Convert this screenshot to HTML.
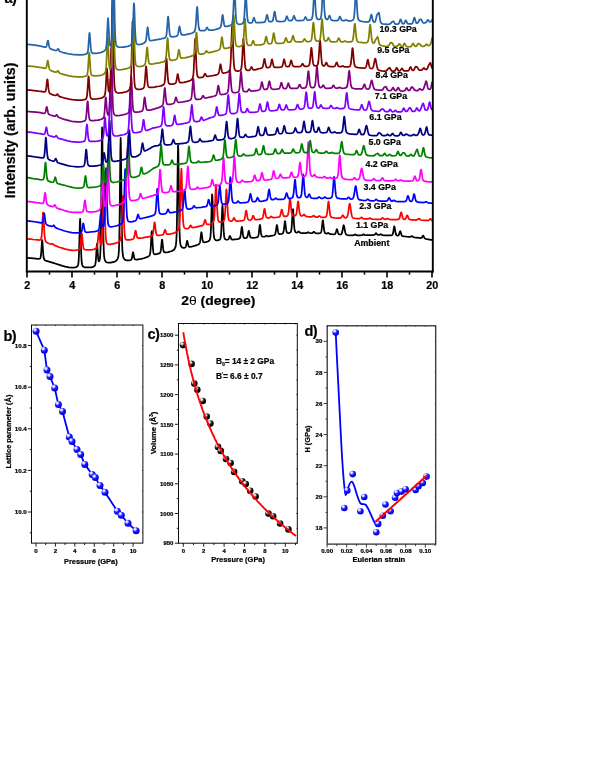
<!DOCTYPE html>
<html><head><meta charset="utf-8"><title>figure</title>
<style>html,body{margin:0;padding:0;background:#fff;}body{width:595px;height:770px;overflow:hidden;}svg{display:block;position:absolute;left:0;top:0;}text{font-family:"Liberation Sans",sans-serif;font-weight:bold;fill:#000;stroke:#000;stroke-width:0.22px;filter:grayscale(1);}</style>
</head><body>
<svg width="595" height="770" viewBox="0 0 595 770">
<defs>
<radialGradient id="gb" cx="0.36" cy="0.30" r="0.75" fx="0.33" fy="0.27"><stop offset="0" stop-color="#ffffff"/><stop offset="0.2" stop-color="#d0d0ff"/><stop offset="0.45" stop-color="#2222ff"/><stop offset="0.8" stop-color="#0000f0"/><stop offset="1" stop-color="#0000b0"/></radialGradient>
<radialGradient id="gk" cx="0.36" cy="0.30" r="0.75" fx="0.33" fy="0.27"><stop offset="0" stop-color="#ffffff"/><stop offset="0.2" stop-color="#cfcfcf"/><stop offset="0.45" stop-color="#2c2c2c"/><stop offset="0.7" stop-color="#000000"/><stop offset="1" stop-color="#000000"/></radialGradient>
</defs>
<rect x="0" y="0" width="595" height="770" fill="#ffffff"/>
<g id="pa">
<polyline points="27.00,257.99 30.38,258.14 33.47,258.38 36.00,258.63 37.69,258.80 38.81,258.82 39.66,258.66 39.94,258.52 40.22,258.27 40.50,257.71 40.78,256.58 41.06,254.44 41.63,246.47 41.91,242.04 42.19,240.02 42.47,242.02 43.03,251.27 43.31,254.93 43.59,257.27 43.88,258.60 44.16,259.30 44.44,259.74 45.00,260.23 46.41,260.94 53.16,262.88 55.13,263.47 57.09,264.17 62.44,265.85 65.25,266.62 68.91,267.34 72.28,267.70 73.41,267.66 75.09,267.45 76.22,267.16 77.06,266.63 77.63,265.98 77.91,265.43 78.19,264.50 78.47,262.64 78.75,259.15 79.03,253.02 79.88,222.24 80.16,218.98 80.44,225.10 81.00,247.10 81.28,255.31 81.56,260.44 81.84,263.28 82.13,264.79 82.41,265.56 82.69,266.01 83.25,266.57 84.09,267.05 85.22,267.33 88.03,267.47 89.44,267.49 91.69,267.31 92.53,267.13 93.66,266.63 94.50,265.97 94.78,265.63 95.06,265.13 95.34,264.22 95.63,262.56 95.91,259.72 96.75,245.49 97.03,243.62 97.31,245.88 97.88,255.04 98.16,258.44 98.44,260.40 98.72,261.27 99.00,261.37 99.28,260.95 99.56,260.14 99.84,258.78 100.13,256.35 100.41,251.65 100.69,242.66 100.97,226.81 101.53,171.18 101.81,141.20 102.09,127.26 102.38,139.45 103.22,224.92 103.50,241.22 103.78,250.49 104.06,255.35 104.34,257.83 104.63,259.25 104.91,260.18 105.47,261.28 106.03,261.91 106.59,262.26 107.16,262.49 108.00,262.65 110.81,262.59 113.91,261.98 115.03,261.53 116.16,260.75 117.00,259.84 117.56,258.89 117.84,258.24 118.13,257.34 118.41,255.96 118.69,253.58 118.97,249.04 119.25,240.48 119.53,225.65 120.38,149.14 120.66,137.99 120.94,149.94 121.78,226.18 122.06,240.65 122.34,248.89 122.63,253.20 122.91,255.49 123.19,256.80 123.47,257.69 123.75,258.31 124.31,259.07 125.16,259.84 126.00,260.15 126.84,260.40 129.09,260.34 130.50,260.08 131.06,259.81 131.34,259.54 131.63,258.99 131.91,258.12 132.47,254.98 132.75,253.23 133.03,252.27 133.31,252.75 134.16,257.55 134.44,258.51 134.72,259.07 135.00,259.34 135.28,259.48 136.97,259.63 139.50,259.18 141.19,258.92 143.72,258.25 146.81,257.19 147.94,256.69 149.06,255.88 149.34,255.61 149.63,255.19 149.91,254.49 150.19,253.25 150.47,251.02 150.75,247.45 151.59,232.01 151.88,231.15 152.16,234.58 152.72,245.28 153.00,249.20 153.28,251.66 153.56,253.02 153.84,253.71 154.13,254.03 154.69,254.26 155.25,254.31 156.38,254.20 158.34,253.72 159.19,253.44 159.75,253.13 160.03,252.82 160.31,252.32 160.59,251.43 160.88,249.89 161.44,244.47 161.72,241.37 162.00,239.51 162.28,240.04 163.13,248.44 163.41,250.30 163.69,251.40 163.97,251.99 164.25,252.25 164.81,252.45 166.78,252.41 168.19,252.19 171.00,251.29 172.13,250.88 173.25,250.28 174.09,249.50 174.66,248.79 175.22,247.67 175.50,246.86 175.78,245.69 176.06,243.80 176.34,240.36 176.63,233.98 176.91,222.86 177.47,183.27 177.75,160.04 178.03,145.40 178.31,148.67 179.16,211.85 179.44,226.68 179.72,235.83 180.00,240.86 180.28,243.50 180.56,244.92 180.84,245.76 181.41,246.73 181.97,247.32 182.53,247.66 183.66,247.87 184.50,247.78 185.06,247.56 185.34,247.38 185.63,246.94 185.91,246.23 186.19,245.13 186.75,242.07 187.03,240.91 187.31,240.90 187.88,243.47 188.16,244.84 188.44,245.81 188.72,246.40 189.00,246.70 189.28,246.85 189.84,246.92 191.53,246.61 193.50,246.14 195.19,245.63 196.88,245.05 198.28,244.46 199.13,243.90 199.41,243.58 199.69,243.04 199.97,242.14 200.25,240.69 201.09,233.55 201.38,232.26 201.66,232.92 202.50,239.46 202.78,240.83 203.06,241.64 203.34,242.05 203.63,242.24 204.19,242.32 205.59,242.15 207.28,241.67 208.41,241.20 209.25,240.54 209.53,240.17 209.81,239.66 210.09,238.79 210.38,237.20 210.66,234.31 210.94,229.34 211.50,211.79 211.78,201.36 212.06,194.45 212.34,195.22 212.63,203.10 213.19,223.14 213.47,230.13 213.75,234.54 214.03,237.03 214.31,238.34 214.59,239.04 215.16,239.78 215.72,240.11 216.28,240.32 217.69,240.30 219.09,239.91 219.66,239.60 219.94,239.30 220.22,238.83 220.50,238.07 220.78,236.63 221.06,233.99 221.34,229.60 222.19,208.71 222.47,205.70 222.75,208.62 223.59,229.31 223.88,233.69 224.16,236.31 224.44,237.78 224.72,238.57 225.00,239.01 225.56,239.43 226.13,239.60 226.97,239.74 228.09,239.50 228.38,239.30 228.66,238.93 228.94,238.32 229.50,236.58 229.78,235.97 230.06,236.00 230.34,236.59 230.91,238.19 231.19,238.78 231.75,239.38 232.31,239.56 232.88,239.59 237.09,239.22 238.50,238.92 239.34,238.60 239.91,238.08 240.19,237.51 240.47,236.54 240.75,234.95 241.59,227.80 241.88,226.88 242.16,227.98 243.00,234.91 243.28,236.37 243.56,237.24 243.84,237.71 244.41,238.06 245.25,238.12 246.09,237.99 246.66,237.77 246.94,237.52 247.22,237.09 247.50,236.35 248.06,233.68 248.34,232.03 248.63,230.90 248.91,230.88 249.19,231.98 249.75,235.03 250.03,236.16 250.31,236.91 250.59,237.33 250.88,237.56 251.44,237.74 253.41,237.83 255.66,237.51 256.78,237.32 257.34,237.09 257.91,236.61 258.19,236.07 258.47,235.17 258.75,233.65 259.59,226.22 259.88,224.93 260.16,225.68 261.00,232.89 261.28,234.54 261.56,235.57 261.84,236.17 262.13,236.48 262.69,236.70 263.81,236.75 264.66,236.69 265.22,236.47 266.06,235.83 266.34,235.69 266.63,235.69 267.75,236.30 268.31,236.36 272.25,235.72 273.94,235.23 274.50,234.93 275.06,234.27 275.34,233.59 275.63,232.53 276.19,228.84 276.47,226.68 276.75,225.21 277.03,225.17 277.31,226.65 277.88,230.68 278.16,232.14 278.44,233.09 278.72,233.60 279.00,233.89 279.56,234.10 281.25,234.00 281.81,233.88 282.66,233.45 282.94,233.18 283.22,232.72 283.50,231.85 283.78,230.39 284.34,225.62 284.63,222.92 284.91,221.16 285.19,221.33 285.47,223.33 286.03,228.54 286.31,230.44 286.59,231.69 286.88,232.42 287.16,232.80 287.72,233.05 288.56,233.10 289.13,233.04 290.25,232.55 290.53,232.25 290.81,231.80 291.09,231.01 291.38,229.55 291.66,227.08 292.22,218.58 292.50,213.40 292.78,209.54 293.06,209.16 293.34,212.47 293.91,222.47 294.19,226.36 294.47,228.96 294.75,230.53 295.03,231.40 295.31,231.91 295.59,232.23 296.16,232.50 297.00,232.58 297.56,232.43 298.41,231.58 298.69,231.41 298.97,231.49 300.09,232.63 300.38,232.80 301.22,233.01 306.00,233.11 306.84,232.96 307.97,232.27 308.25,232.21 308.53,232.33 309.38,232.98 310.50,233.24 311.63,233.24 312.19,233.13 312.75,232.76 313.59,231.84 313.88,231.79 314.16,231.93 315.00,232.83 315.56,233.12 316.97,233.30 318.94,233.27 319.78,233.17 320.34,232.99 320.63,232.78 320.91,232.45 321.19,231.82 321.47,230.68 321.75,228.89 322.59,221.19 322.88,220.30 323.16,221.50 324.00,229.25 324.28,230.97 324.56,232.11 324.84,232.78 325.13,233.13 325.69,233.46 326.53,233.64 326.81,233.63 327.94,233.02 328.22,232.98 328.78,233.31 329.63,233.88 330.19,234.03 331.59,234.24 333.56,234.33 334.69,234.20 334.97,234.05 335.25,233.77 335.53,233.30 336.09,231.53 336.66,229.47 336.94,229.19 337.22,229.73 338.06,232.83 338.34,233.52 338.63,233.92 339.19,234.33 340.31,234.50 340.88,234.38 341.16,234.23 341.44,233.92 341.72,233.42 342.00,232.68 342.56,230.30 343.41,225.74 343.69,225.17 343.97,225.63 344.53,228.52 345.09,231.60 345.38,232.74 345.66,233.57 345.94,234.10 346.22,234.48 346.78,234.80 347.63,235.03 350.16,235.28 352.41,235.39 353.81,235.20 354.66,234.69 354.94,234.49 355.22,234.39 355.50,234.40 356.63,235.16 357.19,235.31 359.16,235.34 360.28,235.36 361.97,235.13 362.25,235.04 363.09,234.44 363.38,234.35 363.66,234.40 364.78,235.06 365.63,235.24 369.56,235.19 370.69,235.18 372.66,235.13 374.34,234.85 374.91,234.47 375.75,233.36 376.03,233.19 376.31,233.33 377.16,234.40 377.72,234.83 378.28,235.00 379.13,234.91 379.69,234.69 380.53,234.23 380.81,234.18 381.38,234.49 381.94,234.89 382.50,235.13 384.75,235.31 388.13,235.38 388.97,235.45 390.66,235.41 391.78,235.18 392.06,235.06 392.34,234.83 392.63,234.36 392.91,233.57 393.47,230.65 394.03,227.11 394.31,226.38 394.59,227.03 395.44,232.31 395.72,233.60 396.00,234.47 396.28,234.96 396.56,235.23 397.41,235.59 397.97,235.53 398.25,235.46 398.53,235.24 398.81,234.85 399.38,233.40 399.94,231.55 400.22,231.20 400.50,231.56 401.34,234.40 401.63,235.11 401.91,235.56 402.19,235.87 403.03,236.22 404.16,236.43 406.97,236.71 408.38,236.81 410.06,236.88 410.91,236.55 411.47,236.20 411.75,236.15 412.03,236.21 413.44,237.11 414.28,237.37 415.97,237.68 417.09,237.73 420.19,238.02 421.03,238.02 421.31,237.94 421.88,237.46 422.72,235.94 423.00,235.63 423.28,235.71 423.84,236.77 424.41,237.93 424.97,238.53 425.81,238.87 427.22,239.12 428.34,239.27 430.88,239.82 432.00,239.97" fill="none" stroke="#000000" stroke-width="1.75" stroke-linejoin="round" stroke-linecap="round"/>
<polyline points="27.00,238.95 30.66,239.16 33.19,239.50 37.41,239.94 37.97,239.97 39.38,240.04 39.94,239.98 40.50,239.71 40.78,239.46 41.06,238.94 41.34,238.03 41.63,236.26 41.91,233.24 42.47,222.97 42.75,216.91 43.03,212.66 43.31,212.61 43.59,216.87 44.16,229.13 44.44,233.92 44.72,237.21 45.00,239.23 45.28,240.38 45.56,241.09 46.13,241.87 46.97,242.54 47.81,243.05 49.50,243.76 50.91,244.12 51.75,243.97 52.31,243.78 52.59,243.79 53.16,244.26 53.72,244.86 54.56,245.38 59.34,247.24 61.59,247.96 63.00,248.37 64.69,248.93 66.66,249.40 68.06,249.73 72.00,250.35 73.97,250.40 75.94,250.25 78.19,249.98 79.03,249.69 79.31,249.50 79.59,249.15 79.88,248.51 80.16,247.41 80.44,245.60 81.00,239.65 81.28,236.18 81.56,233.73 81.84,233.52 82.13,235.73 82.97,245.11 83.25,246.98 83.53,248.13 83.81,248.81 84.09,249.15 84.66,249.49 85.50,249.73 86.91,249.88 89.72,249.88 92.25,249.65 93.94,249.33 95.06,248.95 95.91,248.47 96.47,247.95 96.75,247.53 97.03,246.76 97.31,245.53 97.59,243.63 98.16,237.37 98.44,233.72 98.72,231.01 99.00,230.56 99.28,232.50 99.84,239.02 100.13,241.58 100.41,243.29 100.69,244.22 100.97,244.53 101.25,244.39 101.53,243.87 101.81,242.82 102.09,240.89 102.38,237.47 102.66,231.75 102.94,223.00 103.78,185.42 104.06,179.96 104.34,184.31 105.19,221.24 105.47,230.18 105.75,236.04 106.03,239.54 106.31,241.50 106.59,242.56 106.88,243.21 107.16,243.62 107.72,244.08 108.28,244.36 109.13,244.45 110.53,244.31 111.38,244.14 113.91,243.64 116.16,243.05 118.13,242.27 118.97,241.73 119.81,240.93 120.09,240.55 120.38,239.98 120.66,239.15 120.94,237.76 121.22,235.36 121.50,231.41 121.78,225.41 122.63,199.73 122.91,195.81 123.19,198.51 124.03,223.58 124.31,229.83 124.59,234.04 124.88,236.53 125.16,237.93 125.44,238.71 125.72,239.14 126.28,239.59 126.84,239.82 128.25,239.96 129.66,239.84 131.91,239.39 133.03,239.03 133.59,238.52 133.88,238.02 134.16,237.23 134.72,234.48 135.28,231.25 135.56,230.58 135.84,231.14 136.69,235.61 136.97,236.68 137.25,237.39 137.53,237.81 137.81,238.02 138.38,238.16 139.50,238.18 142.88,237.78 144.84,237.48 149.34,236.72 150.47,236.53 151.88,235.93 152.16,235.68 152.44,235.29 152.72,234.69 153.00,233.70 153.28,232.18 154.13,224.56 154.41,222.56 154.69,222.33 154.97,223.97 155.81,231.48 156.09,233.10 156.38,234.11 156.66,234.68 156.94,235.02 157.22,235.19 158.06,235.34 159.47,235.29 161.44,235.03 162.84,234.62 163.13,234.38 163.41,234.03 163.69,233.52 164.25,231.86 164.81,230.08 165.09,229.80 165.38,230.20 166.22,232.84 166.50,233.48 166.78,233.85 167.06,234.07 167.63,234.20 169.59,234.10 170.44,234.01 173.81,233.20 174.94,232.70 176.91,231.38 177.75,230.61 178.31,229.81 178.59,229.24 178.88,228.39 179.16,226.99 179.44,224.67 179.72,220.76 180.00,214.56 180.56,194.30 181.13,172.07 181.41,168.71 181.69,173.85 182.53,207.33 182.81,215.33 183.09,220.69 183.38,223.93 183.66,225.79 183.94,226.84 184.22,227.44 184.50,227.83 185.06,228.27 185.63,228.50 185.91,228.60 187.31,228.57 188.16,228.39 188.72,228.12 189.00,227.87 189.56,227.02 190.13,225.79 190.41,225.36 190.69,225.30 190.97,225.61 191.81,227.01 192.38,227.43 192.94,227.53 195.47,227.19 196.88,226.86 199.97,226.17 201.94,225.71 202.78,225.34 203.34,224.74 203.63,224.19 204.19,222.39 204.75,220.32 205.03,219.85 205.31,220.14 206.16,222.84 206.44,223.55 206.72,224.02 207.00,224.28 207.56,224.46 208.41,224.44 210.38,224.10 211.22,223.80 212.34,223.16 213.19,222.32 213.47,221.77 213.75,220.93 214.03,219.50 214.31,217.08 214.59,213.28 215.16,200.91 215.72,187.09 216.00,184.69 216.28,187.39 217.13,207.96 217.41,213.16 217.69,216.71 217.97,218.92 218.25,220.23 218.53,220.96 218.81,221.38 219.09,221.67 219.66,221.95 220.50,222.10 221.91,221.93 222.75,221.64 223.31,221.33 223.88,220.67 224.16,220.01 224.44,218.89 224.72,217.04 225.00,214.10 225.56,204.18 226.13,192.20 226.41,189.32 226.69,190.77 227.81,212.49 228.09,215.84 228.38,217.99 228.66,219.21 228.94,219.93 229.22,220.34 230.06,220.88 231.19,221.07 232.03,220.96 232.31,220.77 232.59,220.46 233.16,219.43 233.72,218.14 234.00,217.91 234.28,218.08 235.41,220.30 235.69,220.62 235.97,220.82 236.25,220.93 237.66,221.02 240.19,220.90 242.44,220.63 243.28,220.37 243.84,220.07 244.13,219.69 244.41,219.10 244.69,218.21 245.25,215.23 245.81,211.56 246.09,210.63 246.38,210.94 246.94,214.22 247.50,217.42 247.78,218.46 248.06,219.14 248.34,219.56 248.91,219.89 250.03,220.05 250.88,219.87 251.16,219.73 251.44,219.46 251.72,219.07 252.28,217.72 252.84,216.07 253.13,215.65 253.41,215.80 254.53,218.66 254.81,219.10 255.09,219.41 255.66,219.68 256.78,219.69 259.03,219.40 261.28,218.86 262.13,218.45 262.41,218.14 262.69,217.61 262.97,216.77 263.53,213.96 264.09,210.23 264.38,209.01 264.66,208.92 264.94,210.06 265.78,215.14 266.06,216.26 266.34,217.03 266.63,217.48 266.91,217.75 267.47,217.95 268.59,218.01 269.44,217.79 270.00,217.37 270.84,216.52 271.13,216.40 271.69,216.74 272.25,217.30 272.81,217.60 273.66,217.72 275.91,217.50 278.16,217.21 279.00,216.98 279.56,216.65 279.84,216.31 280.13,215.78 280.41,214.96 281.53,209.99 281.81,209.65 282.09,210.19 282.94,213.94 283.22,214.91 283.50,215.57 283.78,215.99 284.06,216.20 284.91,216.41 285.47,216.43 286.59,216.18 287.16,215.87 287.44,215.63 287.72,215.24 288.00,214.58 288.28,213.56 288.56,211.89 289.13,206.47 289.69,199.93 289.97,198.22 290.25,198.74 290.53,201.22 291.38,210.56 291.66,212.60 291.94,213.89 292.22,214.70 292.50,215.18 293.06,215.56 293.91,215.74 294.75,215.74 295.31,215.60 295.59,215.39 295.88,215.05 296.16,214.44 296.44,213.45 296.72,211.92 297.28,207.16 297.84,202.17 298.13,201.39 298.41,202.43 299.25,210.13 299.53,212.14 299.81,213.62 300.09,214.57 300.38,215.12 300.66,215.45 301.22,215.80 301.50,215.89 302.06,215.90 302.63,215.68 303.75,214.52 304.03,214.45 304.31,214.62 305.44,215.95 306.28,216.44 307.97,216.76 310.78,216.83 311.34,216.87 312.19,216.62 313.03,216.01 313.31,215.78 313.59,215.68 313.88,215.73 314.16,215.93 314.72,216.55 315.28,216.91 316.41,217.17 316.97,217.18 317.53,217.10 318.09,216.83 318.94,216.13 319.22,215.98 319.50,216.01 320.91,217.09 322.03,217.33 323.44,217.39 324.56,217.34 325.13,217.23 325.69,216.96 325.97,216.73 326.25,216.36 326.53,215.69 326.81,214.64 327.09,213.03 327.66,208.01 328.22,202.59 328.50,201.51 328.78,202.39 329.91,212.98 330.19,214.68 330.47,215.78 330.75,216.47 331.03,216.91 331.59,217.35 333.00,217.73 334.13,217.84 338.34,218.07 340.03,218.02 340.59,217.91 341.16,217.56 341.72,216.81 342.56,215.37 342.84,215.26 343.13,215.49 343.97,216.97 344.53,217.57 345.09,217.83 345.66,217.82 346.22,217.66 346.78,217.24 347.06,216.85 347.34,216.26 347.63,215.40 348.19,212.68 349.31,204.76 349.59,203.75 349.88,203.84 350.16,205.00 351.28,213.04 351.84,215.72 352.13,216.56 352.41,217.14 352.69,217.55 353.25,218.02 353.81,218.24 354.94,218.45 357.47,218.70 359.16,218.71 359.72,218.59 360.28,218.30 361.13,217.58 361.41,217.42 361.69,217.43 362.25,217.87 362.81,218.42 363.38,218.76 364.50,218.95 367.31,218.97 368.16,218.83 368.72,218.64 369.56,218.19 370.13,218.24 371.25,218.93 372.09,219.16 374.34,219.25 375.75,219.34 377.44,219.28 379.69,219.31 380.81,219.16 381.38,218.89 382.22,218.11 382.50,217.95 382.78,217.97 383.34,218.38 384.19,219.06 384.47,219.24 385.03,219.34 385.88,219.18 387.00,218.59 387.28,218.52 387.56,218.56 388.69,219.19 389.53,219.38 392.63,219.65 396.56,219.62 397.97,219.43 398.81,219.05 399.09,218.78 399.38,218.36 399.66,217.70 400.22,215.58 400.78,213.04 401.06,212.33 401.34,212.36 401.63,213.18 402.47,216.88 402.75,217.79 403.03,218.43 403.31,218.84 403.88,219.18 404.44,219.29 405.00,219.16 405.28,218.97 405.56,218.64 406.13,217.54 406.69,216.00 406.97,215.44 407.25,215.29 407.53,215.61 408.66,218.44 409.22,219.17 409.78,219.52 410.63,219.71 411.75,219.85 413.16,219.88 415.69,220.02 416.53,219.99 417.38,219.69 418.22,219.08 418.50,218.82 418.78,218.65 419.06,218.62 419.63,219.02 420.47,219.76 421.03,220.00 424.41,220.32 426.94,220.47 428.06,220.49 428.63,220.34 428.91,220.20 430.03,219.07 430.31,218.89 430.59,218.88 431.16,219.50 432.00,220.49" fill="none" stroke="#ff0000" stroke-width="1.75" stroke-linejoin="round" stroke-linecap="round"/>
<polyline points="27.00,220.95 29.81,221.08 32.34,221.49 34.31,221.75 35.44,221.96 38.53,222.36 40.78,222.85 41.63,222.89 41.91,222.83 42.19,222.61 42.47,222.20 42.75,221.39 43.03,220.07 43.88,214.04 44.16,213.28 44.44,214.20 45.28,220.82 45.56,222.31 45.84,223.32 46.13,223.94 46.41,224.36 47.25,224.96 48.66,225.60 51.75,226.43 52.31,226.39 52.88,225.98 53.44,225.34 53.72,225.27 54.00,225.49 54.84,226.91 55.13,227.27 55.97,227.88 58.78,228.99 63.84,230.73 66.66,231.50 68.34,231.85 68.91,232.02 72.00,232.63 74.53,232.85 76.22,232.89 79.31,232.72 80.44,232.56 81.00,232.27 81.28,232.07 81.56,231.60 81.84,230.86 82.13,229.73 82.97,224.32 83.25,223.31 83.53,223.68 84.09,227.11 84.66,230.25 84.94,231.12 85.22,231.66 85.50,231.98 86.06,232.22 86.63,232.32 88.88,232.22 90.84,232.00 91.41,231.93 93.94,231.73 95.34,231.47 96.47,231.17 97.59,230.71 98.16,230.33 98.44,229.99 98.72,229.49 99.00,228.69 99.28,227.40 99.56,225.36 100.41,216.10 100.69,214.23 100.97,214.61 101.81,222.81 102.09,224.91 102.38,226.19 102.66,226.81 102.94,226.96 103.22,226.76 103.50,226.25 103.78,225.25 104.06,223.45 104.34,220.27 104.63,214.93 104.91,206.80 105.75,172.70 106.03,168.11 106.31,172.43 107.16,206.15 107.44,214.23 107.72,219.51 108.00,222.59 108.28,224.37 108.56,225.32 108.84,225.88 109.41,226.44 109.97,226.67 111.09,226.79 112.50,226.67 114.47,226.26 115.59,226.00 116.44,225.81 117.56,225.48 119.53,224.68 120.94,223.99 121.78,223.25 122.34,222.47 122.63,221.85 122.91,220.85 123.19,219.22 123.47,216.38 123.75,211.71 124.03,204.59 124.88,173.93 125.16,169.04 125.44,171.99 126.28,201.87 126.56,209.48 126.84,214.53 127.13,217.61 127.41,219.34 127.69,220.29 127.97,220.83 128.25,221.17 128.81,221.54 129.66,221.74 131.06,221.82 132.47,221.62 135.00,220.84 135.56,220.58 136.13,220.06 136.41,219.61 136.69,218.98 137.25,216.99 137.81,214.85 138.09,214.52 138.38,214.96 139.22,217.68 139.50,218.22 139.78,218.56 140.06,218.72 140.91,218.70 142.03,218.48 143.72,218.02 149.34,216.55 151.03,216.15 153.28,215.43 154.13,214.98 154.69,214.45 154.97,214.01 155.25,213.28 155.53,212.05 155.81,210.05 156.09,206.92 156.94,192.17 157.22,188.82 157.50,188.95 157.78,192.49 158.63,206.86 158.91,209.79 159.19,211.64 159.47,212.71 159.75,213.27 160.03,213.59 160.59,213.91 161.72,214.03 163.13,214.02 164.53,213.89 165.94,213.40 166.50,212.76 166.78,212.24 167.63,209.98 167.91,209.43 168.19,209.43 168.47,209.95 169.03,211.40 169.59,212.37 169.88,212.58 170.72,212.73 171.84,212.63 175.78,211.94 179.44,211.11 180.56,210.72 181.69,210.08 182.25,209.44 182.53,208.78 182.81,207.72 183.09,205.96 183.38,203.38 184.22,191.85 184.50,189.58 184.78,190.02 185.06,192.95 185.63,200.80 185.91,203.87 186.19,206.04 186.47,207.40 186.75,208.19 187.03,208.60 187.31,208.84 187.88,209.02 188.72,209.09 191.25,208.72 192.09,208.36 192.66,207.82 193.78,205.88 194.06,205.85 194.34,206.12 195.19,207.31 195.47,207.55 196.03,207.77 196.88,207.75 201.38,207.28 203.06,206.97 204.19,206.89 205.59,206.71 206.44,206.26 206.72,205.97 207.00,205.46 207.28,204.76 207.84,202.42 208.41,199.92 208.69,199.59 208.97,200.18 209.81,203.85 210.09,204.76 210.38,205.34 210.66,205.72 210.94,205.92 211.78,206.09 213.47,206.00 216.00,205.34 216.84,204.92 217.13,204.71 217.41,204.35 217.69,203.71 217.97,202.69 218.25,201.04 218.53,198.60 219.38,187.85 219.66,185.57 219.94,185.83 220.22,188.47 221.06,198.83 221.34,201.05 221.63,202.47 221.91,203.31 222.19,203.77 222.47,203.99 223.03,204.18 223.59,204.24 225.28,204.10 226.41,203.81 227.25,203.38 227.81,202.83 228.09,202.31 228.38,201.46 228.66,199.95 228.94,197.55 229.50,189.51 230.06,179.65 230.34,177.18 230.63,178.18 231.19,187.13 231.75,195.84 232.03,198.58 232.31,200.37 232.59,201.46 232.88,202.07 233.16,202.41 233.72,202.78 234.56,203.00 235.97,202.93 236.53,202.71 236.81,202.49 237.66,201.45 237.94,201.20 238.22,201.17 238.78,201.74 239.34,202.40 239.63,202.64 240.19,202.83 241.31,202.84 242.44,202.75 244.69,202.53 246.94,202.26 247.78,201.94 248.06,201.79 248.34,201.49 248.63,201.05 248.91,200.38 249.47,197.94 250.03,194.80 250.31,193.88 250.59,193.95 250.88,195.03 251.72,199.36 252.00,200.30 252.28,200.91 252.56,201.29 252.84,201.49 253.13,201.59 254.25,201.64 255.09,201.52 255.66,201.23 255.94,200.98 256.22,200.56 256.78,199.23 257.34,197.87 257.63,197.71 257.91,198.03 258.75,200.06 259.31,200.90 259.88,201.19 260.72,201.26 262.69,201.14 265.78,200.48 266.34,200.26 266.91,199.71 267.19,199.22 267.47,198.38 267.75,197.17 268.88,189.88 269.16,189.50 269.44,190.48 270.28,196.14 270.56,197.52 270.84,198.43 271.13,198.99 271.41,199.31 271.97,199.63 272.53,199.67 273.66,199.53 274.22,199.32 275.63,198.21 275.91,198.18 276.19,198.35 277.03,199.11 277.88,199.41 279.00,199.48 282.38,199.29 283.78,199.03 284.34,198.74 284.63,198.49 284.91,198.09 285.19,197.49 285.75,195.61 286.31,193.48 286.59,193.05 286.88,193.35 288.00,197.22 288.28,197.79 288.56,198.16 288.84,198.40 289.41,198.56 290.25,198.52 291.38,198.27 292.22,197.80 292.50,197.51 292.78,197.07 293.06,196.34 293.34,195.05 293.63,193.13 294.19,187.22 294.75,180.79 295.03,179.65 295.31,180.83 296.16,190.48 296.44,193.08 296.72,194.89 297.00,196.09 297.28,196.79 297.84,197.43 298.41,197.65 299.53,197.65 300.09,197.46 300.66,196.96 300.94,196.47 301.22,195.58 301.50,194.06 301.78,191.77 302.34,184.46 302.91,176.26 303.19,174.45 303.47,175.61 304.59,191.05 304.88,193.54 305.16,195.14 305.44,196.11 305.72,196.71 306.00,197.04 306.56,197.35 307.13,197.40 307.41,197.24 307.69,196.98 307.97,196.58 308.81,194.64 309.09,194.23 309.38,194.29 309.66,194.78 310.50,196.94 310.78,197.44 311.34,198.01 311.91,198.25 313.88,198.38 316.97,198.33 317.53,198.11 318.66,197.14 318.94,197.01 319.22,197.03 320.63,198.13 321.47,198.34 322.59,198.38 323.16,198.21 324.00,197.60 324.56,197.08 324.84,197.03 325.13,197.14 325.97,197.93 326.53,198.23 327.38,198.43 328.50,198.34 330.47,198.06 331.03,197.84 331.59,197.34 331.88,196.80 332.16,195.88 332.44,194.40 332.72,192.20 333.28,185.34 333.84,178.09 334.13,176.77 334.41,178.08 335.53,192.22 335.81,194.45 336.09,195.93 336.38,196.85 336.66,197.39 336.94,197.74 337.50,198.10 338.63,198.48 340.03,198.67 342.00,198.88 346.22,198.97 346.78,198.83 347.34,198.44 348.19,197.48 348.47,197.27 348.75,197.28 349.03,197.50 349.88,198.52 350.44,198.94 351.00,199.05 352.13,198.94 352.69,198.67 352.97,198.32 353.25,197.81 353.53,197.09 353.81,196.07 354.38,193.01 355.22,187.32 355.50,186.22 355.78,186.12 356.06,187.03 357.19,194.51 357.75,197.22 358.03,198.10 358.31,198.71 358.59,199.14 359.16,199.65 360.00,199.96 363.66,200.50 364.78,200.50 365.63,200.44 366.19,200.25 366.75,199.84 367.31,199.40 367.59,199.27 367.88,199.27 368.16,199.44 369.28,200.44 370.13,200.71 371.25,200.82 373.78,200.81 374.63,200.51 375.19,200.07 375.75,199.53 376.03,199.41 376.31,199.43 377.72,200.65 378.84,200.98 381.94,201.09 384.19,201.14 385.88,201.13 386.72,200.95 387.00,200.86 387.56,200.38 387.84,199.97 388.69,198.22 388.97,197.84 389.25,197.85 389.53,198.18 390.38,199.94 390.66,200.39 390.94,200.71 391.22,200.92 391.78,201.06 392.34,201.04 393.19,200.66 393.75,200.40 394.03,200.39 394.59,200.68 395.44,201.15 396.00,201.32 398.53,201.52 404.44,201.57 405.28,201.43 405.84,201.11 406.13,200.80 406.69,199.59 407.53,196.58 407.81,195.90 408.09,195.81 408.38,196.38 409.22,199.34 409.50,200.09 409.78,200.64 410.06,201.00 410.63,201.31 411.19,201.35 411.75,201.14 412.03,200.89 412.31,200.41 412.59,199.69 413.16,197.48 413.72,194.80 414.00,194.11 414.28,194.26 414.56,195.19 415.41,199.20 415.69,200.13 415.97,200.82 416.25,201.26 416.81,201.74 417.38,201.94 419.06,202.28 420.19,202.38 421.59,202.38 423.56,202.55 424.41,202.45 425.25,202.06 425.81,201.76 426.09,201.75 426.66,202.01 427.50,202.53 428.34,202.84 431.16,203.16 432.00,203.20" fill="none" stroke="#0000ff" stroke-width="1.75" stroke-linejoin="round" stroke-linecap="round"/>
<polyline points="27.00,201.47 28.69,201.57 31.78,201.91 35.16,202.32 39.66,203.08 42.19,203.45 42.75,203.39 43.03,203.26 43.31,202.91 43.59,202.25 43.88,201.06 44.44,196.96 44.72,194.56 45.00,192.94 45.28,193.03 45.56,194.84 46.13,199.82 46.41,201.73 46.69,203.09 46.97,203.93 47.25,204.43 47.81,204.96 48.94,205.56 52.59,206.66 53.16,206.64 53.44,206.50 53.72,206.26 54.56,205.10 54.84,204.98 55.13,205.23 55.97,206.95 56.53,207.71 57.09,208.08 60.75,209.30 62.16,209.76 64.41,210.53 69.19,211.78 72.84,212.34 76.22,212.48 78.75,212.37 80.72,212.30 82.13,211.98 82.69,211.64 82.97,211.30 83.25,210.65 83.53,209.61 83.81,207.97 84.66,201.15 84.94,200.32 85.22,201.28 86.06,207.99 86.34,209.52 86.63,210.51 86.91,211.12 87.19,211.44 88.03,211.80 89.44,211.92 90.84,212.02 92.53,211.89 93.66,211.83 95.06,211.69 95.91,211.53 97.88,210.84 99.28,210.16 99.84,209.65 100.13,209.30 100.41,208.72 100.69,207.73 100.97,206.09 101.25,203.38 101.81,193.99 102.38,182.81 102.66,180.70 102.94,182.84 103.78,198.48 104.06,202.04 104.34,204.30 104.63,205.51 104.91,206.02 105.19,206.06 105.47,205.80 105.75,205.11 106.03,203.81 106.31,201.41 106.59,197.40 107.16,182.96 107.72,165.45 108.00,162.02 108.28,165.34 109.13,190.65 109.41,196.70 109.69,200.64 109.97,202.96 110.25,204.27 110.53,204.96 110.81,205.34 111.38,205.72 112.22,205.89 114.19,205.73 116.44,205.19 119.81,204.31 122.06,203.40 123.47,202.57 124.03,202.07 124.59,201.26 124.88,200.71 125.16,199.72 125.44,198.14 125.72,195.42 126.00,190.85 126.28,183.91 127.13,153.30 127.41,147.85 127.69,150.26 128.53,179.98 128.81,187.76 129.09,192.99 129.38,196.21 129.66,198.06 129.94,199.09 130.22,199.66 130.50,200.03 131.06,200.41 131.63,200.65 133.31,200.71 134.72,200.48 137.53,199.71 138.38,199.22 138.66,198.97 138.94,198.51 139.50,196.96 140.06,194.67 140.34,193.85 140.63,193.74 140.91,194.35 141.75,197.14 142.03,197.69 142.31,198.03 142.59,198.20 143.16,198.29 144.56,198.00 148.22,197.07 150.19,196.42 152.72,195.71 155.25,194.93 156.38,194.39 157.22,193.74 157.50,193.41 157.78,192.92 158.06,192.21 158.34,190.98 158.63,189.01 158.91,186.00 159.75,172.48 160.03,169.68 160.31,170.18 160.59,173.59 161.16,182.86 161.44,186.46 161.72,188.99 162.00,190.55 162.28,191.45 162.56,191.95 163.13,192.38 164.81,192.62 166.78,192.50 168.19,192.15 168.75,191.88 169.03,191.60 169.31,191.17 169.59,190.58 170.16,188.46 170.72,186.09 171.00,185.69 171.28,186.19 172.13,189.67 172.41,190.48 172.69,190.99 172.97,191.29 173.25,191.49 173.81,191.59 175.50,191.57 176.34,191.49 178.31,191.36 180.00,191.05 181.41,190.87 182.53,190.66 183.09,190.48 183.94,190.26 184.78,189.86 185.34,189.27 185.63,188.73 185.91,187.78 186.19,186.24 186.47,183.82 187.03,175.90 187.59,167.54 187.88,166.46 188.16,168.58 189.00,181.41 189.28,184.46 189.56,186.44 189.84,187.68 190.13,188.35 190.41,188.78 190.69,189.02 191.53,189.28 192.66,189.43 194.91,189.24 195.75,188.90 196.31,188.30 197.16,187.17 197.44,187.13 197.72,187.34 198.56,188.35 198.84,188.57 199.69,188.72 203.34,188.22 206.16,187.69 208.13,187.27 209.53,186.86 210.09,186.44 210.38,186.10 210.66,185.58 210.94,184.79 212.06,179.99 212.34,179.75 212.63,180.45 213.47,184.01 213.75,184.81 214.03,185.31 214.31,185.60 214.88,185.82 215.72,185.84 217.13,185.65 218.81,185.20 219.94,184.67 220.78,184.02 221.06,183.62 221.34,182.96 221.63,181.91 221.91,180.19 222.19,177.47 222.75,168.78 223.31,159.33 223.59,157.90 223.88,160.01 224.72,174.19 225.00,177.68 225.28,180.08 225.56,181.57 225.84,182.44 226.13,182.89 226.41,183.16 226.97,183.41 227.81,183.56 228.94,183.46 230.06,183.24 231.19,182.75 231.47,182.55 231.75,182.23 232.03,181.72 232.31,180.87 232.59,179.43 232.88,177.16 233.44,169.27 234.00,159.35 234.28,156.56 234.56,157.16 234.84,160.84 235.69,174.78 235.97,177.69 236.25,179.51 236.53,180.64 236.81,181.29 237.09,181.71 237.66,182.04 238.78,182.29 239.63,182.30 240.47,182.09 241.03,181.60 241.88,180.43 242.16,180.24 242.44,180.33 243.56,181.51 244.13,181.81 245.25,181.95 247.50,181.79 250.03,181.60 251.16,181.41 252.28,181.05 252.56,180.85 253.13,180.05 253.69,178.42 254.25,176.20 254.53,175.38 254.81,175.21 255.09,175.80 255.94,178.92 256.22,179.66 256.50,180.10 256.78,180.38 257.34,180.62 258.47,180.58 259.31,180.38 259.88,180.01 260.16,179.60 260.44,178.92 261.00,176.65 261.56,173.71 261.84,172.78 262.13,172.80 262.41,173.73 263.25,177.86 263.53,178.75 263.81,179.34 264.09,179.70 264.38,179.90 264.94,180.02 267.19,179.98 269.16,179.74 270.28,179.50 271.13,179.18 271.69,178.58 271.97,178.03 272.25,177.18 272.81,174.49 273.38,171.46 273.66,170.81 273.94,171.22 274.78,175.45 275.06,176.57 275.34,177.36 275.63,177.86 275.91,178.12 276.47,178.33 277.59,178.29 278.44,177.96 278.72,177.75 279.28,176.81 280.13,174.65 280.41,174.24 280.69,174.35 281.25,175.59 281.81,176.89 282.09,177.30 282.66,177.72 283.22,177.89 285.47,177.90 288.28,177.74 289.13,177.47 289.69,176.99 289.97,176.51 290.53,174.91 291.09,172.92 291.38,172.32 291.66,172.38 291.94,173.03 292.78,175.80 293.06,176.39 293.34,176.78 293.63,177.03 293.91,177.17 295.59,177.28 296.72,177.10 297.28,176.83 297.56,176.56 297.84,176.14 298.13,175.44 298.41,174.34 298.69,172.72 299.53,165.12 299.81,163.07 300.09,162.56 300.38,163.84 301.22,171.49 301.50,173.41 301.78,174.70 302.06,175.55 302.34,176.04 302.63,176.31 303.19,176.52 303.75,176.55 304.59,176.34 305.16,176.00 305.44,175.74 305.72,175.34 306.00,174.64 306.28,173.48 306.56,171.56 306.84,168.51 307.41,158.41 307.97,145.87 308.25,142.25 308.53,142.83 308.81,147.24 309.66,165.34 309.94,169.37 310.22,172.12 310.50,173.81 310.78,174.85 311.06,175.46 311.63,176.08 312.19,176.35 312.75,176.31 313.03,176.16 313.59,175.51 314.16,174.76 314.44,174.60 314.72,174.76 315.84,176.49 316.13,176.79 316.97,177.20 319.22,177.53 322.03,177.69 322.88,177.55 323.44,177.18 324.00,176.71 324.28,176.56 324.56,176.60 324.84,176.76 325.69,177.57 326.25,177.89 327.09,178.12 327.66,178.20 328.78,178.03 329.34,177.79 329.91,177.47 330.19,177.40 330.75,177.63 331.59,178.13 332.44,178.38 334.13,178.46 335.53,178.32 336.38,178.08 336.94,177.74 337.22,177.37 337.50,176.83 337.78,175.87 338.06,174.28 338.34,171.88 338.91,164.56 339.47,156.61 339.75,155.14 340.03,156.49 341.16,171.90 341.44,174.37 341.72,176.04 342.00,177.10 342.28,177.70 342.84,178.31 343.97,178.78 346.50,179.36 349.31,179.56 350.44,179.64 351.84,179.66 352.41,179.53 352.97,179.30 353.53,178.74 354.09,178.01 354.38,177.83 354.66,177.84 355.22,178.44 355.78,179.12 356.34,179.53 356.91,179.64 357.75,179.56 358.31,179.39 358.59,179.25 359.16,178.63 359.44,178.06 359.72,177.27 360.28,174.81 361.13,169.94 361.41,168.78 361.69,168.41 361.97,168.98 362.53,171.88 363.38,176.50 363.94,178.36 364.22,178.94 364.78,179.61 365.34,179.97 366.75,180.29 368.44,180.38 370.97,180.49 371.81,180.36 372.38,180.04 372.94,179.49 373.50,178.85 373.78,178.70 374.06,178.70 375.19,180.00 375.75,180.38 376.59,180.54 379.13,180.64 380.25,180.47 380.53,180.33 381.09,179.77 381.94,178.30 382.22,177.96 382.50,177.91 382.78,178.20 383.63,179.74 384.19,180.38 385.03,180.71 388.41,180.77 393.47,180.70 394.03,180.49 394.59,180.15 395.44,179.43 395.72,179.37 396.28,179.72 396.84,180.25 397.69,180.66 398.53,180.75 399.38,180.53 400.22,180.08 400.50,180.02 400.78,180.04 401.34,180.34 401.91,180.67 402.75,180.89 403.88,180.99 406.69,181.10 409.22,181.08 410.34,181.13 412.03,181.00 412.59,180.78 412.88,180.54 413.16,180.17 413.44,179.63 414.56,176.46 414.84,176.22 415.13,176.52 416.25,179.65 416.53,180.13 416.81,180.46 417.09,180.64 417.66,180.74 418.22,180.63 418.78,180.10 419.06,179.59 419.34,178.74 419.63,177.54 420.75,170.16 421.03,169.54 421.31,170.19 422.44,177.69 422.72,178.96 423.00,179.82 423.28,180.39 423.84,180.99 424.41,181.18 426.94,181.65 427.50,181.72 429.19,181.77 430.03,181.82 432.00,181.95" fill="none" stroke="#ff00ff" stroke-width="1.75" stroke-linejoin="round" stroke-linecap="round"/>
<polyline points="27.00,177.41 30.38,178.05 33.19,178.56 36.56,179.09 37.41,179.23 39.94,179.69 41.91,179.80 42.75,179.69 43.03,179.57 43.31,179.33 43.59,178.80 43.88,177.78 44.16,176.05 44.44,173.47 45.28,163.19 45.56,162.58 45.84,164.81 46.69,175.56 46.97,177.76 47.25,179.15 47.53,179.97 47.81,180.47 48.09,180.78 48.66,181.16 50.63,181.92 51.75,182.18 52.88,182.25 53.16,182.19 53.44,182.04 53.72,181.72 54.00,181.13 54.56,179.17 54.84,178.02 55.13,177.26 55.41,177.39 55.69,178.30 56.25,180.83 56.53,181.83 56.81,182.53 57.09,182.98 57.38,183.28 57.66,183.47 59.63,184.05 60.75,184.41 61.59,184.67 63.28,185.02 64.13,185.21 65.25,185.48 68.34,186.46 71.44,187.21 72.28,187.46 75.09,187.98 78.75,188.22 81.28,187.93 82.69,187.63 83.25,187.26 83.53,186.89 83.81,186.26 84.09,185.20 84.66,181.33 85.22,176.75 85.50,175.97 85.78,176.98 86.63,183.67 86.91,185.23 87.19,186.23 87.47,186.85 87.75,187.16 88.03,187.35 88.88,187.56 89.72,187.57 91.13,187.43 93.09,187.39 93.66,187.29 94.50,187.22 96.19,187.00 99.00,186.23 100.13,185.69 100.69,185.22 100.97,184.82 101.25,184.21 101.53,183.12 101.81,181.37 102.09,178.66 102.94,166.07 103.22,163.57 103.50,164.17 104.06,171.75 104.63,178.80 104.91,180.78 105.19,181.92 105.47,182.41 105.75,182.51 106.03,182.32 106.31,181.86 106.59,180.97 106.88,179.27 107.16,176.38 107.44,171.76 108.28,148.99 108.56,143.71 108.84,144.08 109.13,149.80 109.69,165.73 109.97,171.96 110.25,176.31 110.53,178.93 110.81,180.43 111.09,181.26 111.38,181.70 111.94,182.13 112.50,182.28 113.91,182.36 116.16,182.01 118.13,181.62 122.06,180.50 123.19,180.10 124.59,179.20 125.16,178.64 125.72,177.72 126.00,176.91 126.28,175.54 126.56,173.11 126.84,169.17 127.41,155.41 127.97,138.93 128.25,135.67 128.53,138.69 129.38,162.51 129.66,168.30 129.94,172.14 130.22,174.41 130.50,175.67 130.78,176.36 131.06,176.72 131.63,177.08 132.19,177.28 133.03,177.39 134.16,177.33 136.41,176.79 138.09,176.17 138.94,175.67 139.50,174.98 139.78,174.35 140.06,173.43 140.63,170.49 140.91,168.81 141.19,167.57 141.47,167.32 141.75,168.20 142.59,172.19 142.88,173.02 143.16,173.52 143.44,173.76 143.72,173.86 144.28,173.81 145.13,173.57 147.09,172.75 148.50,172.06 151.03,170.16 153.00,168.63 154.41,167.83 155.53,167.38 156.94,166.76 158.06,166.07 158.34,165.82 158.91,164.95 159.19,164.10 159.47,162.72 159.75,160.53 160.31,153.38 160.88,145.71 161.16,144.74 161.44,146.71 162.28,158.24 162.56,160.88 162.84,162.62 163.13,163.66 163.41,164.23 163.69,164.57 164.25,164.79 165.09,164.92 167.63,164.91 169.59,164.56 170.16,164.18 170.44,163.84 170.72,163.35 171.28,161.76 171.56,160.87 171.84,160.23 172.13,160.16 172.41,160.69 173.25,163.10 173.53,163.61 173.81,163.95 174.38,164.28 175.50,164.35 177.75,164.15 180.00,164.13 182.53,163.68 183.66,163.59 184.78,163.40 185.91,162.96 186.47,162.54 186.75,162.12 187.03,161.48 187.31,160.38 187.59,158.67 188.16,153.12 188.72,147.19 189.00,146.41 189.28,147.94 190.13,157.03 190.41,159.17 190.69,160.61 190.97,161.48 191.25,161.99 191.53,162.28 192.38,162.58 193.22,162.73 194.63,162.75 196.31,162.60 196.88,162.39 197.44,162.02 198.28,161.18 198.56,161.13 199.13,161.49 199.69,161.95 200.25,162.20 200.53,162.27 203.63,162.17 207.00,161.88 209.25,161.64 210.66,161.28 211.22,161.01 211.50,160.80 211.78,160.44 212.06,159.89 212.63,158.01 213.19,155.70 213.47,155.14 213.75,155.33 214.88,159.11 215.16,159.70 215.44,160.06 215.72,160.23 216.28,160.31 217.69,160.14 219.94,159.61 220.78,159.35 221.63,158.95 222.19,158.47 222.47,158.13 222.75,157.56 223.03,156.66 223.31,155.23 223.59,153.06 224.44,142.91 224.72,140.39 225.00,140.08 225.28,142.18 226.13,152.10 226.41,154.32 226.69,155.82 226.97,156.69 227.25,157.17 227.53,157.42 227.81,157.57 228.94,157.66 230.06,157.60 231.47,157.26 232.59,156.82 233.16,156.41 233.44,156.06 233.72,155.47 234.00,154.47 234.28,152.90 234.84,147.66 235.41,141.28 235.69,139.62 235.97,140.23 236.25,142.68 236.81,149.09 237.09,151.59 237.38,153.39 237.66,154.52 237.94,155.20 238.22,155.57 239.06,155.97 240.19,156.01 241.31,155.91 241.88,155.70 242.44,155.25 243.28,154.13 243.56,153.95 243.84,154.02 244.41,154.64 244.97,155.22 245.53,155.53 246.38,155.63 248.63,155.65 250.59,155.47 253.41,155.08 253.97,154.78 254.25,154.51 254.53,154.10 254.81,153.45 255.38,151.38 255.94,149.09 256.22,148.69 256.50,149.13 257.34,152.48 257.63,153.36 257.91,153.95 258.19,154.31 258.75,154.66 259.59,154.70 260.72,154.39 261.28,154.02 261.56,153.63 261.84,153.04 262.13,152.12 262.69,149.22 263.25,146.20 263.53,145.71 263.81,146.36 264.66,151.00 264.94,152.21 265.22,153.01 265.50,153.53 265.78,153.82 266.06,153.99 267.19,154.22 269.16,154.27 271.97,154.05 272.81,153.82 273.38,153.42 273.66,153.04 274.22,151.66 274.78,149.79 275.06,149.13 275.34,148.98 275.63,149.40 276.47,151.96 276.75,152.60 277.03,153.02 277.31,153.29 278.16,153.54 279.28,153.47 279.84,153.33 280.13,153.20 280.41,152.94 280.97,151.98 281.81,149.91 282.09,149.59 282.38,149.78 283.50,152.32 283.78,152.71 284.06,152.95 284.91,153.17 286.59,153.13 289.13,153.07 290.53,152.89 291.09,152.68 291.38,152.46 291.94,151.64 292.78,149.58 293.06,149.15 293.34,149.18 293.63,149.61 294.47,151.61 295.03,152.34 295.31,152.54 295.88,152.70 297.56,152.76 298.97,152.49 299.53,152.16 299.81,151.80 300.09,151.21 300.38,150.33 300.94,147.51 301.50,144.47 301.78,143.95 302.06,144.50 303.19,150.33 303.47,151.23 303.75,151.79 304.03,152.16 304.59,152.46 305.44,152.60 306.56,152.55 307.13,152.44 307.69,152.09 307.97,151.74 308.25,151.21 308.53,150.29 308.81,148.91 309.66,142.59 309.94,140.95 310.22,140.61 310.50,141.74 311.34,148.14 311.63,149.74 311.91,150.88 312.19,151.62 312.47,152.03 312.75,152.26 313.59,152.51 314.16,152.45 314.44,152.32 315.00,151.73 315.84,150.04 316.13,149.64 316.41,149.62 316.69,149.96 317.53,151.76 317.81,152.21 318.38,152.72 319.22,152.95 320.63,153.05 322.31,153.14 323.72,153.11 324.28,152.98 324.84,152.68 325.97,151.45 326.25,151.31 326.53,151.40 327.66,152.66 327.94,152.87 328.78,153.12 330.19,153.16 331.03,152.92 331.88,152.47 332.16,152.43 332.44,152.47 333.56,153.13 334.41,153.31 335.53,153.37 338.06,153.34 338.63,153.25 338.91,153.16 339.19,152.99 339.47,152.70 339.75,152.19 340.03,151.37 340.31,150.18 340.88,146.42 341.44,142.41 341.72,141.69 342.00,142.40 343.13,150.35 343.41,151.62 343.69,152.49 343.97,153.08 344.25,153.41 344.81,153.79 345.94,154.09 348.75,154.47 353.25,154.73 354.09,154.63 354.38,154.51 354.94,153.97 355.50,152.80 356.06,151.26 356.34,150.70 356.63,150.60 356.91,151.00 357.75,153.30 358.31,154.33 358.59,154.62 359.16,154.91 359.72,155.00 360.28,154.92 360.84,154.60 361.13,154.31 361.69,153.32 362.25,151.46 363.38,146.32 363.66,145.75 363.94,145.90 364.22,146.73 365.34,152.06 365.91,153.86 366.47,154.78 367.03,155.19 367.88,155.52 369.84,155.68 372.94,155.82 374.06,155.67 374.63,155.41 375.47,154.58 376.03,154.05 376.88,153.74 377.44,153.45 377.72,153.43 378.00,153.62 379.13,155.13 379.69,155.58 380.81,155.73 382.50,155.62 382.78,155.49 383.34,154.95 384.19,153.68 384.47,153.42 384.75,153.41 385.03,153.71 385.88,155.04 386.16,155.34 386.72,155.67 387.28,155.76 387.84,155.63 388.41,155.30 389.53,154.39 389.81,154.40 390.94,155.38 391.50,155.70 392.34,155.86 394.88,155.75 395.44,155.68 395.72,155.56 396.28,154.99 396.84,153.86 397.41,152.32 397.69,151.72 397.97,151.48 398.25,151.77 399.38,154.60 399.66,155.03 399.94,155.27 400.50,155.45 400.78,155.43 401.34,155.08 401.91,154.33 402.47,153.36 402.75,153.02 403.03,152.87 403.88,152.90 404.44,153.09 404.72,153.42 405.56,154.88 406.13,155.53 406.69,155.86 407.53,156.03 408.38,156.03 408.94,155.91 409.50,155.61 410.63,154.47 410.91,154.37 411.19,154.52 412.31,155.68 412.88,155.96 413.44,155.94 413.72,155.84 414.28,155.27 414.84,154.20 415.97,151.49 416.81,149.63 417.09,149.39 417.38,149.74 417.94,151.87 418.50,154.16 419.06,155.51 419.34,155.91 419.63,156.11 420.19,156.29 420.75,156.21 421.03,156.06 421.31,155.80 421.59,155.32 421.88,154.53 422.44,152.06 423.00,148.90 423.28,147.86 423.56,147.76 423.84,148.65 424.69,153.40 424.97,154.62 425.25,155.51 425.53,156.10 425.81,156.49 426.38,156.90 427.50,157.24 429.19,157.63 432.00,157.98" fill="none" stroke="#008000" stroke-width="1.75" stroke-linejoin="round" stroke-linecap="round"/>
<polyline points="27.00,155.98 29.53,156.13 32.06,156.47 33.19,156.58 35.16,156.97 38.25,157.37 41.91,157.96 43.03,157.92 43.59,157.57 43.88,157.14 44.16,156.30 44.44,154.79 44.72,152.33 45.56,140.05 45.84,137.61 46.13,138.48 46.97,151.11 47.25,154.38 47.53,156.55 47.81,157.85 48.09,158.61 48.38,159.09 48.94,159.60 50.06,160.19 50.91,160.52 52.31,160.95 53.44,161.20 54.00,161.11 54.28,160.95 54.56,160.63 55.41,158.92 55.69,158.59 55.97,158.78 57.09,161.66 57.66,162.39 58.22,162.75 59.91,163.32 66.94,165.36 68.91,165.78 71.44,166.25 77.06,166.87 81.28,166.72 82.97,166.38 83.53,166.07 83.81,165.83 84.09,165.43 84.38,164.75 84.66,163.58 84.94,161.68 85.50,155.46 85.78,151.99 86.06,149.60 86.34,149.62 86.63,152.01 87.19,158.90 87.47,161.59 87.75,163.45 88.03,164.59 88.31,165.23 88.59,165.57 89.16,165.91 90.28,166.12 91.41,166.17 94.22,166.05 97.59,165.65 100.41,164.99 101.25,164.64 101.81,164.22 102.09,163.85 102.38,163.25 102.66,162.29 102.94,160.83 103.78,154.15 104.06,152.79 104.34,153.05 104.91,156.92 105.47,160.48 105.75,161.41 106.03,161.88 106.31,162.03 106.59,161.90 106.88,161.61 107.16,161.06 107.44,160.13 107.72,158.47 108.00,155.58 108.28,150.99 108.84,135.97 109.13,127.38 109.41,121.28 109.69,120.84 109.97,126.24 110.81,149.66 111.09,154.40 111.38,157.38 111.66,159.07 111.94,160.00 112.22,160.52 112.50,160.84 113.06,161.13 113.63,161.27 114.75,161.30 116.72,161.05 117.56,160.88 118.13,160.84 120.09,160.50 122.63,159.85 124.59,159.31 125.72,158.75 126.28,158.32 126.56,158.02 126.84,157.57 127.13,156.87 127.41,155.68 127.69,153.76 127.97,150.70 128.53,140.84 128.81,135.10 129.09,130.95 129.38,130.36 129.66,133.66 130.50,149.17 130.78,152.41 131.06,154.43 131.34,155.62 131.63,156.25 131.91,156.59 132.19,156.78 133.03,156.97 134.72,156.82 136.13,156.53 137.53,155.91 139.22,154.84 140.06,154.04 140.34,153.64 140.63,153.07 140.91,152.22 141.19,150.97 142.03,145.02 142.31,143.47 142.59,143.16 142.88,144.19 143.72,149.09 144.00,150.04 144.28,150.57 144.56,150.80 144.84,150.89 145.41,150.82 147.09,150.03 148.50,149.24 149.91,148.45 152.16,147.05 153.84,146.37 155.53,145.93 157.78,145.58 159.19,145.12 159.75,144.75 160.03,144.44 160.31,143.95 160.59,143.13 160.88,141.76 161.16,139.69 162.00,130.66 162.28,129.05 162.56,129.68 163.13,135.37 163.69,140.77 163.97,142.42 164.25,143.42 164.53,144.01 164.81,144.33 165.38,144.65 166.22,144.89 167.91,144.98 170.16,144.64 171.00,144.41 171.56,143.98 172.13,142.91 172.97,140.11 173.25,139.58 173.53,139.66 174.09,141.29 174.66,142.91 174.94,143.45 175.22,143.73 175.78,143.95 177.75,143.94 179.44,143.83 180.28,143.69 183.66,143.27 184.50,143.19 186.19,142.84 187.59,142.29 187.88,142.08 188.16,141.72 188.44,141.14 188.72,140.16 189.00,138.62 189.56,133.42 190.13,127.49 190.41,126.37 190.69,127.52 191.53,136.28 191.81,138.45 192.09,139.93 192.38,140.84 192.66,141.35 192.94,141.69 193.78,142.05 195.19,142.28 196.88,142.17 197.72,141.92 198.28,141.57 198.56,141.29 199.13,140.34 199.69,139.19 199.97,138.91 200.25,139.10 201.09,140.67 201.38,141.07 201.94,141.49 202.22,141.60 203.34,141.60 207.56,141.32 211.78,140.65 212.91,140.27 213.47,139.70 213.75,139.16 214.88,135.43 215.16,135.05 215.44,135.44 216.28,138.30 216.56,139.04 216.84,139.49 217.13,139.78 217.69,140.06 218.81,140.04 221.91,139.63 223.03,139.36 223.59,139.10 223.88,138.90 224.16,138.59 224.44,138.12 224.72,137.32 225.00,135.98 225.28,133.95 226.13,124.43 226.41,122.00 226.69,121.65 226.97,123.53 227.81,133.03 228.09,135.16 228.38,136.59 228.66,137.48 228.94,137.94 229.50,138.36 230.06,138.51 230.91,138.56 232.03,138.51 233.72,138.17 234.56,137.76 235.13,137.18 235.41,136.63 235.69,135.67 235.97,134.12 236.25,131.78 237.09,121.23 237.38,118.73 237.66,118.60 237.94,120.88 238.78,131.32 239.06,133.63 239.34,135.15 239.63,136.07 239.91,136.61 240.19,136.89 241.03,137.22 242.44,137.35 243.28,137.27 243.84,136.94 244.13,136.64 245.25,134.57 245.53,134.47 245.81,134.76 246.66,136.21 246.94,136.57 247.22,136.78 248.06,137.01 250.31,136.97 252.84,136.55 254.53,136.33 255.38,136.08 255.94,135.64 256.22,135.22 256.50,134.58 256.78,133.55 257.91,127.15 258.19,126.76 258.47,127.56 259.31,132.41 259.59,133.64 259.88,134.47 260.16,134.97 260.44,135.23 261.00,135.42 262.13,135.40 262.97,135.18 263.25,134.98 263.53,134.65 263.81,134.13 264.09,133.33 264.66,130.76 265.22,127.99 265.50,127.53 265.78,128.11 266.63,132.22 266.91,133.26 267.19,134.01 267.47,134.46 267.75,134.76 268.31,134.99 269.44,135.08 272.25,134.90 272.53,134.92 273.66,134.71 274.22,134.63 274.78,134.39 275.34,133.90 275.63,133.47 275.91,132.82 276.47,130.72 277.03,128.42 277.31,127.95 277.59,128.27 278.44,131.48 278.72,132.33 279.00,132.95 279.28,133.35 279.56,133.58 280.13,133.75 281.25,133.71 281.81,133.46 282.09,133.20 282.38,132.80 282.66,132.13 283.22,129.89 283.78,126.96 284.06,125.98 284.34,125.92 284.63,126.79 285.47,130.86 285.75,131.77 286.03,132.39 286.31,132.76 286.59,132.98 287.44,133.20 288.84,133.26 291.94,133.01 292.78,132.83 293.06,132.71 293.34,132.49 293.63,132.15 293.91,131.67 294.47,130.19 295.03,128.45 295.31,128.04 295.59,128.24 295.88,128.92 296.72,131.44 297.00,131.93 297.28,132.25 297.84,132.54 299.81,132.65 300.94,132.48 301.50,132.18 301.78,131.91 302.06,131.41 302.34,130.61 302.63,129.46 303.19,125.83 303.75,122.02 304.03,121.40 304.31,122.15 305.16,128.05 305.44,129.61 305.72,130.75 306.00,131.46 306.28,131.89 306.56,132.14 307.13,132.38 307.97,132.47 309.09,132.37 309.66,132.21 309.94,132.03 310.22,131.72 310.50,131.23 310.78,130.42 311.06,129.18 311.63,125.31 312.19,121.27 312.47,120.66 312.75,121.51 313.59,127.70 313.88,129.35 314.16,130.50 314.44,131.28 314.72,131.75 315.28,132.11 316.13,132.22 316.69,131.96 316.97,131.62 317.53,130.35 318.38,127.66 318.66,127.39 318.94,127.77 319.78,130.56 320.06,131.31 320.34,131.83 320.91,132.40 321.75,132.67 323.16,132.79 325.41,132.66 326.25,132.48 326.53,132.34 326.81,132.09 327.09,131.68 327.66,130.21 328.22,128.23 328.50,127.52 328.78,127.37 329.06,127.84 329.91,130.65 330.19,131.34 330.47,131.82 330.75,132.16 331.31,132.52 332.44,132.70 333.28,132.57 334.41,132.01 334.69,131.99 334.97,132.07 335.81,132.60 336.94,132.89 339.19,132.94 340.59,132.77 341.16,132.61 341.72,132.25 342.00,131.86 342.28,131.14 342.56,130.01 342.84,128.29 343.41,123.10 343.97,117.58 344.25,116.57 344.53,117.59 345.66,128.57 345.94,130.30 346.22,131.49 346.50,132.24 346.78,132.68 347.34,133.14 348.47,133.55 349.88,133.92 351.28,134.12 352.69,134.16 354.38,134.40 354.94,134.43 355.50,134.49 356.63,134.32 356.91,134.22 357.19,134.03 357.47,133.68 358.03,132.38 358.88,129.69 359.16,129.36 359.44,129.66 360.56,133.22 360.84,133.82 361.13,134.23 361.41,134.50 361.97,134.72 362.81,134.73 363.38,134.54 363.66,134.36 363.94,134.04 364.22,133.56 364.78,131.97 365.91,126.74 366.19,125.82 366.47,125.56 366.75,126.07 367.31,128.56 367.88,131.38 368.44,133.40 368.72,134.07 369.00,134.55 369.28,134.89 369.84,135.22 371.25,135.50 373.22,135.67 375.47,135.66 376.31,135.57 376.88,135.36 377.16,135.18 377.72,134.48 378.56,133.03 378.84,132.78 379.13,132.80 380.53,133.44 381.09,134.12 381.94,135.17 382.22,135.40 383.06,135.67 385.31,135.65 385.88,135.47 387.28,134.36 387.56,134.35 387.84,134.48 388.69,135.23 389.25,135.53 389.81,135.63 390.38,135.57 390.66,135.47 391.22,134.98 392.06,133.80 392.34,133.54 392.63,133.50 392.91,133.74 394.03,135.25 394.59,135.62 396.28,135.85 397.69,135.81 398.53,135.62 399.09,135.24 399.66,134.49 400.50,132.74 400.78,132.39 401.06,132.49 401.63,133.49 402.19,134.56 402.75,135.21 403.31,135.49 403.88,135.48 404.44,135.24 405.56,134.28 405.84,134.17 406.41,134.24 407.53,134.62 408.66,135.34 409.50,135.64 410.34,135.72 411.47,135.71 412.31,135.43 413.16,134.83 413.72,134.45 414.00,134.41 414.56,134.71 415.41,135.28 415.97,135.42 416.81,135.29 417.38,134.98 417.94,134.37 418.50,133.37 419.06,131.86 419.91,128.84 420.19,128.35 420.47,128.60 420.75,129.46 421.59,132.92 421.88,133.70 422.16,134.23 422.44,134.59 423.00,134.86 423.56,134.87 424.13,134.66 424.41,134.42 424.69,133.98 424.97,133.25 425.53,130.98 426.09,128.14 426.38,127.16 426.66,126.99 426.94,127.72 427.78,131.93 428.06,133.03 428.34,133.81 428.91,134.68 429.47,135.00 431.16,135.19 432.00,135.21" fill="none" stroke="#000080" stroke-width="1.75" stroke-linejoin="round" stroke-linecap="round"/>
<polyline points="27.00,131.91 28.97,132.12 31.78,132.49 33.47,132.64 36.28,133.12 37.13,133.24 37.97,133.45 39.94,133.66 42.75,134.21 43.88,134.28 44.16,134.21 44.44,134.04 44.72,133.66 45.00,132.96 45.56,130.50 46.13,127.60 46.41,127.28 46.69,128.18 47.53,132.96 47.81,133.99 48.09,134.64 48.38,135.05 48.94,135.45 49.78,135.80 53.72,136.90 54.56,136.95 54.84,136.88 55.41,136.44 55.97,135.79 56.25,135.70 56.53,135.92 57.66,137.64 58.22,138.06 59.63,138.58 60.75,138.88 64.41,139.94 67.78,140.80 69.47,141.12 71.16,141.53 74.25,141.82 76.78,142.07 79.03,142.07 81.00,141.93 82.69,141.72 83.81,141.45 84.38,141.13 84.66,140.82 84.94,140.33 85.22,139.44 85.50,137.92 85.78,135.59 86.63,125.71 86.91,124.46 87.19,125.79 88.03,135.56 88.31,137.85 88.59,139.34 88.88,140.23 89.16,140.70 89.72,141.09 90.56,141.35 92.81,141.43 94.78,141.38 97.59,141.10 99.84,140.61 100.69,140.38 101.81,139.70 102.38,139.17 102.66,138.72 102.94,138.09 103.22,136.96 103.50,135.17 103.78,132.38 104.63,119.73 104.91,117.34 105.19,118.09 106.03,129.59 106.31,132.51 106.59,134.39 106.88,135.38 107.16,135.81 107.44,135.79 107.72,135.48 108.00,134.84 108.28,133.63 108.56,131.44 108.84,127.59 109.13,121.35 109.69,100.77 109.97,88.74 110.25,79.88 110.53,78.66 110.81,85.77 111.66,118.75 111.94,125.59 112.22,129.89 112.50,132.40 112.78,133.80 113.06,134.56 113.63,135.33 114.19,135.67 114.75,135.88 115.88,136.00 117.84,135.81 121.22,135.15 123.47,134.75 125.44,134.18 126.56,133.57 127.13,133.12 127.69,132.36 127.97,131.60 128.25,130.37 128.53,128.22 128.81,124.64 129.09,119.18 129.94,95.31 130.22,91.25 130.50,93.31 131.34,116.61 131.63,122.63 131.91,126.73 132.19,129.23 132.47,130.65 132.75,131.43 133.03,131.89 133.31,132.18 134.16,132.62 135.28,132.75 136.41,132.70 139.50,132.22 140.34,131.91 141.19,131.33 141.47,130.98 141.75,130.37 142.03,129.43 142.31,128.02 143.16,121.31 143.44,119.78 143.72,119.84 144.00,121.44 144.56,125.96 144.84,127.71 145.13,128.95 145.41,129.70 145.69,130.10 145.97,130.31 146.25,130.41 147.09,130.32 148.50,129.95 151.88,128.45 153.84,127.81 158.06,127.02 160.03,126.49 160.88,125.99 161.16,125.66 161.44,125.15 161.72,124.27 162.00,122.87 162.28,120.65 163.13,109.89 163.41,107.19 163.69,107.00 163.97,109.39 164.81,120.17 165.09,122.47 165.38,123.92 165.66,124.76 165.94,125.22 166.22,125.48 167.06,125.78 168.47,125.91 169.59,125.84 171.00,125.56 171.56,125.43 172.41,124.95 172.69,124.59 172.97,123.94 173.25,122.94 173.81,119.65 174.38,115.99 174.66,115.33 174.94,116.04 175.78,121.34 176.06,122.61 176.34,123.44 176.63,123.96 176.91,124.23 177.19,124.35 178.59,124.39 180.28,124.18 181.97,123.81 184.78,123.35 187.03,122.85 188.72,122.28 189.00,122.09 189.56,121.43 189.84,120.83 190.13,119.78 190.41,118.06 190.97,112.52 191.53,106.07 191.81,104.84 192.09,105.96 192.94,115.35 193.22,117.72 193.50,119.33 193.78,120.33 194.06,120.85 194.34,121.18 194.91,121.46 196.03,121.61 197.16,121.60 198.28,121.47 199.13,121.21 199.69,120.79 199.97,120.45 200.53,119.24 201.09,117.66 201.38,117.14 201.66,117.16 201.94,117.63 202.50,119.07 202.78,119.60 203.06,119.97 203.34,120.16 203.91,120.28 204.75,120.06 207.84,118.75 209.81,117.93 212.34,117.22 213.75,116.62 214.31,116.24 214.59,115.94 214.88,115.43 215.16,114.70 215.44,113.58 216.28,108.36 216.56,107.06 216.84,106.87 217.13,107.92 217.97,112.84 218.25,113.91 218.53,114.58 218.81,115.01 219.09,115.23 219.66,115.36 221.34,115.34 223.59,114.91 224.72,114.52 225.28,114.21 225.56,113.97 225.84,113.61 226.13,113.05 226.41,112.13 226.69,110.61 226.97,108.33 227.81,97.66 228.09,95.07 228.38,94.84 228.66,97.08 229.50,107.53 229.78,109.86 230.06,111.40 230.34,112.36 230.63,112.89 231.19,113.36 232.31,113.57 234.28,113.51 234.84,113.41 235.97,113.04 236.53,112.65 236.81,112.33 237.09,111.80 237.38,110.93 237.66,109.56 237.94,107.37 239.06,94.15 239.34,93.49 239.63,95.37 240.47,105.85 240.75,108.36 241.03,110.03 241.31,111.03 241.59,111.64 241.88,111.99 242.44,112.32 243.00,112.45 244.41,112.44 244.97,112.29 245.53,111.91 245.81,111.58 246.38,110.36 246.94,108.92 247.22,108.66 247.50,108.89 248.34,110.91 248.63,111.44 248.91,111.81 249.47,112.20 250.03,112.30 252.00,112.37 255.94,112.07 257.34,111.73 257.63,111.58 257.91,111.30 258.19,110.89 258.47,110.24 259.03,107.99 259.59,105.04 259.88,104.10 260.16,104.12 260.44,105.05 261.28,109.26 261.56,110.17 261.84,110.77 262.13,111.10 262.69,111.36 263.53,111.40 264.38,111.26 264.94,111.03 265.22,110.77 265.50,110.33 265.78,109.69 266.06,108.66 267.19,102.41 267.47,101.98 267.75,102.74 268.59,107.60 268.88,108.80 269.16,109.61 269.44,110.14 270.00,110.59 270.56,110.75 271.69,110.79 273.66,110.64 275.63,110.42 276.75,110.15 277.31,109.78 277.59,109.39 277.88,108.83 278.44,107.06 279.00,104.93 279.28,104.38 279.56,104.59 279.84,105.41 280.69,108.44 280.97,109.04 281.25,109.43 281.81,109.79 282.66,109.88 283.78,109.66 284.34,109.30 284.63,108.97 284.91,108.45 286.03,105.26 286.31,105.03 286.59,105.40 287.44,108.00 287.72,108.67 288.00,109.14 288.56,109.58 289.69,109.77 293.91,109.56 295.03,109.32 295.31,109.19 295.59,108.96 295.88,108.58 296.44,107.29 297.28,104.69 297.56,104.47 297.84,104.90 298.69,107.43 298.97,108.07 299.25,108.53 299.53,108.80 299.81,108.97 300.38,109.05 302.34,108.85 303.19,108.56 303.75,108.08 304.03,107.60 304.31,106.81 304.59,105.54 304.88,103.68 305.72,95.06 306.00,92.75 306.28,92.19 306.56,93.65 307.41,102.33 307.69,104.51 307.97,106.03 308.25,107.02 308.53,107.60 308.81,107.92 309.38,108.24 310.22,108.36 311.06,108.23 311.63,108.08 312.19,107.64 312.47,107.20 312.75,106.48 313.03,105.36 313.31,103.62 313.88,98.32 314.44,92.70 314.72,91.80 315.00,92.95 315.84,101.54 316.13,103.83 316.41,105.47 316.69,106.53 316.97,107.21 317.25,107.58 317.81,107.93 318.38,108.01 318.66,108.00 319.22,107.71 319.78,106.94 320.63,105.23 320.91,104.98 321.19,105.14 322.31,107.40 322.88,107.99 323.44,108.23 324.56,108.36 327.38,108.40 328.50,108.30 329.06,108.10 329.63,107.66 330.75,105.73 331.03,105.50 331.31,105.66 332.44,107.57 332.72,107.90 333.28,108.25 333.84,108.38 334.97,108.35 335.81,108.11 336.66,107.65 336.94,107.57 337.22,107.62 338.63,108.50 339.75,108.70 342.00,108.67 343.41,108.45 343.97,108.17 344.25,107.90 344.53,107.46 344.81,106.71 345.09,105.49 345.38,103.70 346.22,95.58 346.50,93.40 346.78,92.80 347.06,94.12 347.91,102.47 348.19,104.67 348.47,106.21 348.75,107.26 349.03,107.91 349.31,108.33 349.88,108.76 351.00,109.10 354.09,109.51 358.03,109.89 359.16,109.83 359.44,109.75 359.72,109.54 360.00,109.19 360.28,108.67 360.84,107.05 361.41,105.19 361.69,104.72 361.97,104.86 362.53,106.59 363.09,108.43 363.66,109.50 363.94,109.78 364.50,110.04 365.06,110.10 365.91,109.94 366.47,109.53 367.03,108.59 367.59,106.77 368.44,102.90 368.72,101.86 369.00,101.38 369.28,101.61 369.56,102.49 370.69,107.66 371.25,109.31 371.53,109.85 371.81,110.19 372.38,110.58 372.94,110.77 376.31,111.21 378.84,111.26 379.41,111.19 379.97,110.91 380.53,110.37 381.09,109.59 381.38,109.27 381.66,109.10 382.78,109.21 383.06,109.21 383.34,109.36 383.91,110.04 384.47,110.81 384.75,111.10 385.59,111.52 386.44,111.67 387.84,111.71 388.41,111.49 388.97,110.98 389.81,109.71 390.09,109.49 390.38,109.48 390.94,110.22 391.78,111.39 392.34,111.76 392.91,111.88 393.47,111.76 394.03,111.43 394.88,110.56 395.16,110.39 395.44,110.36 395.72,110.54 396.56,111.41 397.13,111.78 397.97,111.96 399.66,111.98 400.78,111.87 401.34,111.73 401.91,111.38 402.47,110.56 403.31,108.58 403.59,108.13 403.88,108.13 404.16,108.54 405.00,110.38 405.28,110.84 405.56,111.16 406.13,111.44 406.41,111.47 406.97,111.24 407.53,110.74 408.66,108.90 408.94,108.58 410.06,107.81 410.34,107.87 410.63,108.21 411.75,110.60 412.03,110.94 412.59,111.32 413.44,111.48 414.00,111.39 414.84,111.04 415.13,110.82 415.69,109.94 416.53,108.23 416.81,107.97 417.09,108.08 417.66,109.07 418.22,110.12 418.50,110.47 418.78,110.68 419.06,110.78 419.63,110.66 420.19,110.06 420.75,108.94 421.88,105.89 422.72,103.92 423.00,103.40 423.28,103.37 423.56,103.99 424.69,108.62 424.97,109.32 425.25,109.76 425.53,110.03 426.09,110.26 426.94,110.13 427.50,109.62 427.78,109.13 428.06,108.41 428.63,106.02 429.19,103.15 429.47,102.24 429.75,102.23 430.03,103.09 430.88,107.18 431.16,108.18 431.44,108.90 431.72,109.36 432.00,109.67" fill="none" stroke="#8000ff" stroke-width="1.75" stroke-linejoin="round" stroke-linecap="round"/>
<polyline points="27.00,111.41 32.06,111.80 36.00,112.15 40.22,112.71 43.31,113.31 44.16,113.37 44.72,113.22 45.00,112.97 45.28,112.55 45.56,111.76 46.41,107.73 46.69,106.89 46.97,107.16 47.81,111.55 48.09,112.72 48.38,113.51 48.66,114.01 49.22,114.53 50.34,115.00 53.16,115.85 54.56,116.14 55.13,116.14 55.69,115.83 56.53,114.97 56.81,114.96 57.09,115.25 57.94,116.68 58.22,117.02 59.06,117.55 61.03,118.28 63.28,119.08 65.25,119.66 70.03,120.88 71.72,121.26 74.81,121.61 76.78,121.85 80.44,121.84 81.84,121.67 82.97,121.47 84.66,120.93 85.22,120.45 85.50,119.98 85.78,119.21 86.06,117.84 86.34,115.58 86.91,108.32 87.19,104.20 87.47,101.39 87.75,101.38 88.03,104.15 88.59,112.24 88.88,115.41 89.16,117.60 89.44,118.94 89.72,119.69 90.00,120.11 90.56,120.45 91.97,120.60 93.38,120.60 95.34,120.40 98.16,120.15 100.13,119.62 101.25,119.25 102.09,118.91 102.94,118.37 103.50,117.63 103.78,117.00 104.06,115.93 104.34,114.14 104.63,111.40 105.47,99.36 105.75,97.27 106.03,98.19 106.88,109.25 107.16,111.95 107.44,113.68 107.72,114.56 108.00,114.84 108.28,114.78 108.56,114.40 108.84,113.67 109.13,112.30 109.41,109.84 109.69,105.53 109.97,98.49 110.53,74.92 111.09,50.13 111.38,48.00 111.66,55.78 112.50,94.50 112.78,102.75 113.06,108.02 113.34,111.08 113.63,112.74 113.91,113.70 114.19,114.30 114.75,114.96 115.31,115.31 116.44,115.60 117.56,115.62 119.81,115.43 121.22,115.23 124.88,114.42 126.84,113.77 127.69,113.31 128.25,112.85 128.53,112.52 128.81,112.01 129.09,111.16 129.38,109.76 129.66,107.39 129.94,103.59 130.50,91.13 131.06,78.05 131.34,76.86 131.63,80.85 132.47,101.08 132.75,105.47 133.03,108.29 133.31,109.96 133.59,110.88 133.88,111.38 134.16,111.69 134.72,112.02 135.84,112.21 137.53,112.19 138.94,112.00 141.19,111.41 141.75,111.19 142.31,110.72 142.59,110.27 142.88,109.58 143.16,108.44 143.44,106.71 144.28,98.85 144.56,97.32 144.84,97.70 145.41,102.45 145.97,107.01 146.25,108.39 146.53,109.20 146.81,109.70 147.09,109.95 147.38,110.10 148.22,110.18 149.34,110.08 151.31,109.80 153.56,109.20 157.78,107.92 160.03,107.09 161.44,106.36 162.00,105.95 162.56,105.21 162.84,104.56 163.13,103.45 163.41,101.69 163.97,95.79 164.53,89.11 164.81,87.95 165.09,89.24 165.94,98.78 166.22,101.07 166.50,102.61 166.78,103.50 167.06,103.99 167.34,104.25 167.91,104.43 169.59,104.44 169.88,104.32 171.00,104.13 172.41,103.78 173.25,103.51 173.81,103.20 174.09,102.89 174.38,102.42 174.66,101.70 175.50,98.31 175.78,97.48 176.06,97.34 176.34,97.99 177.19,101.00 177.47,101.65 177.75,102.03 178.31,102.35 179.44,102.35 180.84,102.20 183.09,101.86 187.03,101.13 189.00,100.56 190.13,100.06 190.41,99.90 190.69,99.61 190.97,99.18 191.25,98.41 191.53,97.16 191.81,95.13 192.38,88.31 192.94,80.24 193.22,78.53 193.50,79.76 194.34,91.42 194.63,94.44 194.91,96.49 195.19,97.75 195.47,98.48 195.75,98.90 196.03,99.14 196.59,99.36 198.28,99.42 200.25,99.15 201.09,98.78 201.66,98.15 202.78,95.85 203.06,95.71 203.34,95.97 204.19,97.45 204.75,97.98 205.31,98.12 206.16,98.00 208.69,97.44 211.22,96.91 214.59,96.00 215.44,95.65 216.00,95.25 216.28,94.90 216.56,94.29 216.84,93.42 217.41,90.38 217.97,86.57 218.25,85.57 218.53,85.87 218.81,87.25 219.38,90.87 219.66,92.24 219.94,93.24 220.22,93.86 220.50,94.21 220.78,94.41 221.63,94.53 222.75,94.48 224.72,94.05 226.13,93.60 226.97,93.09 227.25,92.82 227.53,92.40 227.81,91.72 228.09,90.55 228.38,88.68 228.66,85.87 229.50,73.09 229.78,70.21 230.06,70.20 230.34,73.07 231.19,85.61 231.47,88.36 231.75,90.17 232.03,91.23 232.31,91.82 232.59,92.18 233.16,92.51 234.00,92.67 234.84,92.70 237.09,92.33 237.94,92.02 238.50,91.54 238.78,91.06 239.06,90.24 239.34,88.88 239.63,86.77 240.19,80.06 240.75,72.81 241.03,71.62 241.31,73.14 242.16,84.09 242.44,86.86 242.72,88.81 243.00,90.03 243.28,90.73 243.56,91.13 243.84,91.35 244.97,91.69 246.38,91.67 246.94,91.58 247.22,91.46 247.78,90.89 248.63,89.49 248.91,89.15 249.19,89.08 249.75,89.77 250.31,90.57 250.88,91.00 251.72,91.13 254.25,90.78 257.63,90.31 259.31,89.78 259.59,89.61 259.88,89.32 260.16,88.84 260.44,88.09 261.00,85.68 261.56,82.82 261.84,82.10 262.13,82.39 263.25,87.52 263.53,88.32 263.81,88.80 264.09,89.13 264.38,89.33 264.66,89.43 265.50,89.46 266.34,89.38 266.91,89.14 267.19,88.89 267.47,88.49 267.75,87.85 268.03,86.92 268.88,82.54 269.16,81.39 269.44,81.19 269.72,82.04 270.56,86.43 270.84,87.44 271.13,88.13 271.41,88.58 271.69,88.85 272.53,89.14 273.94,89.31 275.91,89.24 278.16,88.96 278.72,88.82 279.00,88.67 279.56,88.10 279.84,87.56 280.41,85.69 280.97,83.34 281.25,82.65 281.53,82.74 281.81,83.54 282.66,86.76 282.94,87.46 283.22,87.96 283.50,88.25 283.78,88.43 284.63,88.63 285.47,88.61 286.03,88.38 286.31,88.16 286.59,87.84 286.88,87.31 287.44,85.66 288.00,83.68 288.28,83.20 288.56,83.40 289.13,85.23 289.69,87.00 289.97,87.54 290.25,87.90 290.53,88.13 291.09,88.36 293.63,88.48 295.59,88.48 296.72,88.39 297.56,88.10 297.84,87.86 298.41,87.02 299.25,84.95 299.53,84.53 299.81,84.57 300.09,85.04 300.94,87.07 301.22,87.51 301.50,87.79 302.06,88.02 302.63,88.11 304.03,88.04 304.88,87.89 305.44,87.68 305.72,87.50 306.00,87.18 306.28,86.65 306.56,85.79 306.84,84.41 307.13,82.39 307.97,73.42 308.25,71.32 308.53,71.16 308.81,72.99 309.66,81.95 309.94,84.06 310.22,85.50 310.50,86.44 310.78,86.97 311.06,87.26 311.91,87.60 313.03,87.56 313.59,87.48 314.16,87.19 314.44,86.86 314.72,86.33 315.00,85.45 315.28,84.00 315.56,81.77 316.13,74.86 316.69,67.62 316.97,66.42 317.25,67.83 318.09,78.97 318.38,81.99 318.66,84.17 318.94,85.57 319.22,86.43 319.78,87.24 320.06,87.45 320.63,87.65 320.91,87.69 321.47,87.51 322.03,86.94 322.88,85.44 323.16,85.20 323.44,85.30 324.00,86.28 324.56,87.29 325.13,87.88 325.41,88.04 326.81,88.31 328.22,88.34 329.91,88.22 330.75,88.21 331.31,88.07 331.88,87.64 332.44,86.84 333.00,85.73 333.28,85.36 333.56,85.33 333.84,85.66 334.69,87.24 334.97,87.60 335.53,87.99 336.38,88.18 337.78,88.10 338.34,87.91 339.19,87.41 339.47,87.36 340.03,87.55 340.59,87.91 341.44,88.18 342.56,88.27 344.53,88.09 345.94,87.70 346.50,87.37 346.78,87.06 347.06,86.52 347.34,85.64 347.63,84.23 348.19,79.46 348.75,73.17 349.03,71.04 349.31,70.78 349.59,72.59 350.44,81.72 350.72,83.96 351.00,85.57 351.28,86.61 351.56,87.25 351.84,87.67 352.41,88.08 354.09,88.52 355.78,88.79 357.75,88.89 360.28,88.96 361.41,88.97 361.97,88.84 362.25,88.67 362.53,88.39 362.81,87.97 363.38,86.59 363.94,84.86 364.22,84.34 364.50,84.41 364.78,85.02 365.63,87.52 365.91,88.11 366.19,88.53 366.47,88.81 367.03,89.05 367.88,89.09 368.72,88.84 369.00,88.62 369.28,88.26 369.56,87.75 370.13,86.08 371.25,81.14 371.53,80.45 371.81,80.46 372.09,81.14 373.22,86.23 373.78,88.01 374.34,89.00 374.91,89.44 375.47,89.68 377.16,89.92 379.97,90.18 381.66,90.12 382.22,89.97 382.50,89.82 383.06,89.20 383.91,87.69 384.19,87.30 384.75,87.04 385.31,86.85 385.59,86.68 385.88,86.63 386.16,86.85 387.28,89.36 387.84,90.09 388.13,90.28 388.97,90.50 390.38,90.57 390.94,90.43 391.22,90.26 391.78,89.57 392.63,87.91 392.91,87.65 393.19,87.72 393.75,88.71 394.31,89.77 394.88,90.42 395.44,90.63 396.00,90.57 396.28,90.45 396.84,89.81 397.69,88.11 397.97,87.73 398.25,87.69 398.53,87.97 399.66,90.13 400.22,90.66 401.06,91.00 402.19,91.04 404.16,90.80 404.72,90.56 405.28,89.98 406.13,88.48 406.41,88.09 406.69,88.00 406.97,88.23 407.81,89.65 408.09,90.02 408.66,90.45 409.22,90.51 409.78,90.24 410.34,89.47 411.19,87.59 411.47,87.13 411.75,86.92 412.31,87.26 413.16,87.91 413.72,88.68 414.28,89.56 414.84,90.15 415.41,90.43 415.97,90.56 417.38,90.56 417.94,90.38 418.78,89.70 419.63,88.77 419.91,88.71 420.47,89.09 421.31,89.81 421.59,89.96 422.16,89.99 422.44,89.94 423.00,89.54 423.56,88.70 424.69,85.66 425.81,81.82 426.09,81.15 426.38,81.24 426.66,82.15 427.50,86.40 427.78,87.51 428.06,88.27 428.34,88.78 428.63,89.09 428.91,89.24 429.47,89.30 430.03,89.13 430.31,88.88 430.59,88.50 430.88,87.87 431.16,86.93 431.72,84.04 432.00,82.31" fill="none" stroke="#800080" stroke-width="1.75" stroke-linejoin="round" stroke-linecap="round"/>
<polyline points="27.00,89.97 28.69,90.05 30.38,90.16 33.75,90.51 36.84,90.85 38.53,91.12 41.06,91.35 41.91,91.53 42.47,91.60 43.59,91.82 44.72,91.86 45.00,91.75 45.28,91.53 45.56,91.09 45.84,90.24 46.13,88.83 46.69,84.01 46.97,81.25 47.25,79.45 47.53,79.72 47.81,81.88 48.38,87.70 48.66,89.91 48.94,91.41 49.22,92.34 49.50,92.89 49.78,93.26 50.63,93.87 52.03,94.55 54.00,95.20 55.41,95.49 55.69,95.50 55.97,95.43 56.53,94.97 57.09,94.28 57.38,94.16 57.66,94.34 58.78,96.06 59.63,96.67 62.72,97.51 64.69,98.08 66.66,98.48 68.91,99.09 72.56,99.73 77.06,100.24 81.84,100.08 84.09,99.73 85.22,99.39 85.78,99.12 86.34,98.38 86.63,97.62 86.91,96.34 87.19,94.22 87.75,86.63 88.31,77.71 88.59,76.28 88.88,78.32 89.72,91.44 90.00,94.43 90.28,96.35 90.56,97.50 90.84,98.09 91.13,98.46 91.69,98.82 92.81,99.10 93.94,99.12 96.75,98.87 98.16,98.65 100.13,98.44 101.81,97.88 103.22,97.17 104.06,96.46 104.63,95.58 104.91,94.72 105.19,93.26 105.47,90.90 105.75,87.26 106.59,71.16 106.88,68.37 107.16,69.61 108.00,84.34 108.28,87.97 108.56,90.22 108.84,91.43 109.13,91.83 109.41,91.72 109.69,91.19 109.97,90.20 110.25,88.42 110.53,85.25 110.81,79.59 111.09,70.30 111.66,38.06 112.22,1.15 112.50,-4.35 112.78,4.61 113.63,60.02 113.91,72.65 114.19,80.84 114.47,85.67 114.75,88.37 115.03,89.88 115.31,90.78 115.59,91.40 116.16,92.12 116.72,92.53 117.28,92.79 118.41,93.01 119.53,92.98 121.50,92.79 124.59,92.20 126.00,91.85 127.13,91.39 128.25,90.72 128.81,90.24 129.38,89.48 129.66,89.01 129.94,88.33 130.22,87.32 130.50,85.65 130.78,82.73 131.06,77.81 131.34,69.99 132.19,31.34 132.47,21.76 132.75,21.39 133.03,30.37 133.88,69.00 134.16,76.92 134.44,81.92 134.72,84.86 135.00,86.51 135.28,87.45 135.56,88.05 136.13,88.73 136.97,89.22 137.81,89.42 138.94,89.48 140.91,89.20 142.31,88.79 143.16,88.32 143.44,88.08 143.72,87.71 144.00,87.11 144.28,86.16 144.56,84.55 144.84,82.02 145.69,69.69 145.97,66.61 146.25,66.43 146.53,69.20 147.38,81.30 147.66,83.84 147.94,85.42 148.22,86.33 148.50,86.83 149.06,87.27 149.63,87.45 151.59,87.46 152.72,87.29 154.69,87.06 156.38,86.73 159.19,86.26 161.16,85.85 162.84,85.17 163.41,84.83 163.97,84.25 164.25,83.71 164.53,82.76 164.81,81.09 165.09,78.44 165.66,69.69 166.22,59.99 166.50,58.50 166.78,60.73 167.63,75.22 167.91,78.70 168.19,81.00 168.47,82.37 168.75,83.15 169.03,83.58 169.59,83.99 170.44,84.16 172.69,84.16 173.81,83.96 174.94,83.53 175.50,83.17 175.78,82.81 176.06,82.18 176.34,81.20 176.91,78.09 177.47,74.63 177.75,74.09 178.03,74.79 178.88,79.79 179.16,80.98 179.44,81.80 179.72,82.27 180.00,82.49 180.56,82.69 181.97,82.63 183.94,82.33 187.03,81.60 187.88,81.31 188.72,81.13 190.41,80.45 191.53,79.66 192.09,79.04 192.38,78.63 192.66,78.00 192.94,77.09 193.22,75.54 193.50,72.99 193.78,68.97 194.34,55.82 194.91,41.17 195.19,38.69 195.47,41.69 196.31,63.41 196.59,68.75 196.88,72.41 197.16,74.60 197.44,75.87 197.72,76.59 198.00,76.97 198.56,77.39 199.13,77.54 199.97,77.63 201.66,77.49 202.78,77.14 203.34,76.71 203.63,76.32 204.19,75.08 204.75,73.80 205.03,73.59 205.31,73.79 206.16,75.47 206.44,75.90 206.72,76.20 207.00,76.34 208.41,76.35 211.78,75.74 212.91,75.60 214.31,75.37 217.13,74.59 217.97,74.11 218.25,73.83 218.53,73.39 218.81,72.68 219.09,71.64 219.66,68.32 220.22,64.76 220.50,64.17 220.78,64.86 221.63,69.99 221.91,71.27 222.19,72.12 222.47,72.63 222.75,72.89 223.31,73.07 224.44,72.98 226.41,72.54 227.53,72.14 228.38,71.67 229.22,70.77 229.50,70.28 229.78,69.48 230.06,68.22 230.34,66.05 230.63,62.50 230.91,57.11 231.75,32.35 232.03,26.42 232.31,26.05 232.59,31.39 233.44,56.14 233.72,61.68 234.00,65.34 234.28,67.60 234.56,68.89 234.84,69.63 235.13,70.12 235.69,70.62 236.25,70.94 237.38,71.18 238.50,71.02 239.63,70.71 240.19,70.40 240.47,70.17 240.75,69.79 241.03,69.21 241.31,68.22 241.59,66.50 241.88,63.79 242.44,54.32 243.00,42.26 243.28,38.80 243.56,39.41 243.84,43.73 244.69,60.80 244.97,64.42 245.25,66.78 245.53,68.20 245.81,69.02 246.09,69.51 246.66,70.02 246.94,70.17 248.06,70.35 248.91,70.32 249.47,70.11 249.75,69.94 250.31,69.12 251.16,67.28 251.44,66.97 251.72,67.11 252.84,69.29 253.13,69.60 253.41,69.78 253.97,69.86 254.81,69.79 257.63,69.05 259.88,68.49 261.56,68.07 262.13,67.75 262.41,67.43 262.69,66.92 262.97,66.04 263.53,63.26 264.09,59.79 264.38,58.87 264.66,59.09 264.94,60.35 265.78,65.17 266.06,66.19 266.34,66.86 266.63,67.24 266.91,67.47 267.47,67.64 268.59,67.52 269.44,67.26 269.72,67.06 270.00,66.74 270.28,66.24 270.56,65.47 271.13,62.84 271.69,59.93 271.97,59.38 272.25,59.91 273.38,65.40 273.66,66.25 273.94,66.79 274.22,67.10 275.06,67.39 277.88,67.47 278.72,67.44 280.97,67.14 281.53,66.95 281.81,66.79 282.09,66.49 282.38,65.97 282.66,65.19 283.22,62.72 283.78,59.92 284.06,59.30 284.34,59.66 284.91,62.23 285.47,64.79 285.75,65.57 286.03,66.05 286.31,66.33 286.59,66.50 287.44,66.71 288.56,66.54 288.84,66.43 289.13,66.20 289.41,65.80 289.69,65.20 290.25,63.23 290.81,60.95 291.09,60.38 291.38,60.63 291.94,62.71 292.50,64.82 292.78,65.49 293.06,65.94 293.63,66.40 294.47,66.64 296.16,66.61 298.13,66.71 299.81,66.54 300.66,66.28 300.94,66.10 301.50,65.34 302.06,64.25 302.34,63.83 302.63,63.73 302.91,64.01 303.75,65.48 304.31,66.07 304.88,66.34 305.72,66.38 306.84,66.34 307.97,66.07 308.53,65.82 308.81,65.54 309.09,65.13 309.38,64.43 309.66,63.30 309.94,61.56 310.50,55.93 311.06,49.36 311.34,47.75 311.63,48.44 312.19,54.47 312.75,60.55 313.03,62.60 313.31,63.94 313.59,64.76 313.88,65.26 314.16,65.50 315.00,65.79 315.84,65.82 316.69,65.61 317.25,65.26 317.53,64.88 317.81,64.19 318.09,63.07 318.38,61.24 318.66,58.48 319.78,41.47 320.06,40.27 320.34,42.23 321.19,55.71 321.47,59.27 321.75,61.85 322.03,63.50 322.31,64.52 322.59,65.07 322.88,65.44 323.44,65.83 324.00,65.96 324.56,65.69 324.84,65.39 325.13,64.95 325.97,62.96 326.25,62.58 326.53,62.63 327.09,63.88 327.66,65.28 327.94,65.74 328.22,66.05 329.06,66.46 331.31,66.62 333.56,66.60 334.13,66.55 334.69,66.24 335.25,65.49 336.38,62.70 336.66,62.40 336.94,62.66 337.78,64.97 338.06,65.58 338.34,66.01 338.91,66.45 339.47,66.67 340.59,66.73 341.44,66.55 342.56,65.96 342.84,65.97 344.25,66.78 344.81,66.91 346.78,66.99 348.47,66.84 349.31,66.58 349.88,66.23 350.16,65.87 350.44,65.32 350.72,64.30 351.00,62.72 351.56,57.45 352.13,50.66 352.41,48.37 352.69,48.23 352.97,50.23 353.81,60.17 354.09,62.60 354.38,64.31 354.66,65.44 354.94,66.15 355.22,66.54 356.06,67.14 357.19,67.48 358.03,67.63 360.56,67.82 363.09,68.11 364.50,68.04 365.34,67.78 365.63,67.53 365.91,67.17 366.19,66.57 366.75,64.37 367.31,61.27 367.59,60.06 367.88,59.67 368.16,60.34 369.00,64.92 369.28,66.14 369.56,67.03 369.84,67.66 370.13,68.05 370.41,68.30 370.97,68.50 371.81,68.57 372.09,68.51 372.66,68.07 372.94,67.65 373.22,67.00 373.78,64.91 374.63,60.35 374.91,59.15 375.19,58.56 375.47,58.80 375.75,59.84 376.88,66.16 377.44,68.29 377.72,68.96 378.00,69.43 378.56,69.98 379.41,70.41 379.69,70.51 380.25,70.60 381.38,70.88 384.19,71.23 385.59,71.15 386.16,70.95 386.72,70.46 387.84,68.93 388.69,68.42 389.53,67.74 389.81,67.82 390.38,68.83 390.94,70.01 391.50,70.76 392.06,71.06 392.63,71.15 393.75,71.18 394.31,71.06 394.88,70.77 395.44,70.09 396.28,68.31 396.56,67.91 396.84,67.86 397.13,68.21 398.25,70.34 398.81,70.80 399.38,70.90 399.94,70.79 400.50,70.39 401.63,68.61 401.91,68.40 402.19,68.52 402.75,69.38 403.31,70.25 403.59,70.57 404.16,70.91 406.41,70.99 407.53,70.92 408.38,70.59 408.94,69.98 409.50,68.89 410.06,67.49 410.34,67.06 410.63,67.04 410.91,67.41 411.75,69.31 412.03,69.81 412.31,70.14 412.59,70.30 413.16,70.37 413.72,70.08 414.00,69.78 414.56,68.73 415.13,67.43 415.41,66.92 415.69,66.66 415.97,66.68 417.09,67.13 417.38,67.40 418.50,69.38 418.78,69.74 419.34,70.10 419.91,70.23 421.03,70.20 421.59,70.07 422.16,69.76 422.72,69.23 423.56,68.07 423.84,67.94 424.13,68.05 424.97,69.03 425.53,69.42 426.09,69.50 426.66,69.32 427.22,68.68 427.78,67.62 428.63,65.42 429.75,63.35 430.03,62.90 430.31,62.81 430.59,63.23 431.72,67.21 432.00,67.89" fill="none" stroke="#800000" stroke-width="1.75" stroke-linejoin="round" stroke-linecap="round"/>
<polyline points="27.00,65.95 29.25,66.02 32.63,66.33 35.44,66.72 36.28,66.81 37.97,67.04 39.66,67.35 41.91,67.63 45.00,68.27 45.56,68.23 45.84,68.07 46.13,67.67 46.41,66.95 46.97,64.19 47.53,60.96 47.81,60.62 48.09,61.63 48.94,67.11 49.22,68.29 49.50,69.07 49.78,69.55 50.06,69.87 50.91,70.42 52.31,71.12 53.72,71.62 55.69,72.13 56.25,72.11 56.81,71.81 57.66,70.90 57.94,70.85 58.22,71.15 58.78,72.12 59.34,72.81 59.91,73.23 61.59,73.89 66.94,75.30 69.19,75.85 70.59,76.09 72.84,76.56 75.66,76.68 77.91,76.83 78.19,76.80 79.03,76.85 79.88,76.86 80.44,76.82 82.13,76.79 83.81,76.61 85.50,76.22 86.34,75.79 86.63,75.54 86.91,75.17 87.19,74.50 87.47,73.37 87.75,71.45 88.03,68.46 88.88,54.97 89.16,52.63 89.44,53.83 90.28,67.14 90.56,70.51 90.84,72.70 91.13,74.02 91.41,74.74 91.69,75.14 92.25,75.50 93.09,75.74 94.78,75.93 96.75,75.84 100.69,75.32 102.38,74.79 103.78,74.10 104.63,73.35 105.19,72.50 105.47,71.71 105.75,70.43 106.03,68.26 106.31,64.68 106.88,52.71 107.44,39.28 107.72,37.41 108.00,40.72 108.84,60.16 109.13,64.35 109.41,66.92 109.69,68.26 109.97,68.82 110.25,68.85 110.53,68.50 110.81,67.70 111.09,66.24 111.38,63.55 111.66,58.82 111.94,51.11 112.50,25.61 112.78,10.57 113.06,-0.59 113.34,-2.33 113.63,6.33 114.47,47.65 114.75,56.33 115.03,61.81 115.31,65.00 115.59,66.79 115.88,67.78 116.16,68.41 116.44,68.82 117.00,69.30 117.56,69.61 118.97,69.78 121.22,69.64 123.19,69.42 125.44,68.96 126.56,68.66 128.81,67.97 129.94,67.28 130.50,66.71 130.78,66.28 131.06,65.62 131.34,64.54 131.63,62.72 131.91,59.57 132.19,54.52 132.75,37.83 133.31,20.12 133.59,18.27 133.88,23.40 134.72,50.86 135.00,56.95 135.28,60.87 135.56,63.19 135.84,64.48 136.13,65.20 136.41,65.64 136.69,65.94 137.25,66.26 138.09,66.44 139.22,66.52 140.91,66.39 142.88,65.94 144.00,65.39 144.56,64.89 144.84,64.54 145.13,63.93 145.41,62.91 145.69,61.29 146.25,55.65 146.81,48.86 147.09,47.46 147.38,48.53 148.22,58.12 148.50,60.51 148.78,62.10 149.06,63.05 149.34,63.58 149.63,63.82 149.91,63.96 151.03,64.08 153.56,63.87 156.66,63.22 157.50,63.10 159.19,62.84 160.88,62.43 163.13,61.92 163.97,61.61 164.81,61.01 165.09,60.65 165.38,60.14 165.66,59.23 165.94,57.73 166.22,55.40 166.78,47.69 167.34,39.28 167.63,38.12 167.91,40.17 168.75,52.77 169.03,55.74 169.31,57.69 169.59,58.87 169.88,59.51 170.16,59.88 170.72,60.19 171.56,60.38 173.25,60.26 175.50,59.68 176.34,59.26 176.63,59.06 176.91,58.71 177.19,58.13 177.47,57.23 178.03,54.19 178.59,50.59 178.88,49.78 179.16,50.21 180.00,55.17 180.28,56.42 180.56,57.29 180.84,57.78 181.13,58.03 181.69,58.22 184.78,57.86 187.88,57.07 190.13,56.67 192.09,55.92 193.22,55.34 193.78,54.90 194.06,54.49 194.34,53.81 194.63,52.75 194.91,50.99 195.19,48.33 196.03,35.87 196.31,32.91 196.59,32.78 196.88,35.57 197.72,47.66 198.00,50.27 198.28,51.94 198.56,52.93 198.84,53.47 199.13,53.77 199.97,54.16 201.09,54.16 201.94,54.07 202.78,53.91 203.34,53.82 204.19,53.54 204.75,53.19 205.03,52.87 206.16,50.95 206.44,50.83 206.72,51.06 207.56,52.19 207.84,52.44 208.13,52.57 208.97,52.61 210.66,52.29 213.47,51.70 215.44,51.22 217.69,50.46 218.81,50.02 219.38,49.61 219.66,49.29 219.94,48.77 220.22,47.98 220.50,46.76 221.06,42.73 221.63,38.17 221.91,37.18 222.19,37.86 223.03,44.25 223.31,45.92 223.59,47.07 223.88,47.78 224.16,48.15 224.44,48.34 225.00,48.45 226.13,48.34 228.38,47.85 229.78,47.35 230.34,47.01 230.91,46.45 231.19,45.98 231.47,45.25 231.75,44.00 232.03,41.92 232.31,38.69 232.88,28.40 233.44,17.12 233.72,15.23 234.00,17.58 234.84,34.57 235.13,38.85 235.41,41.82 235.69,43.71 235.97,44.80 236.25,45.46 236.53,45.83 237.09,46.23 237.94,46.52 238.78,46.54 240.19,46.31 241.59,45.80 242.16,45.40 242.44,45.01 242.72,44.37 243.00,43.33 243.28,41.57 243.56,38.81 244.13,29.99 244.69,20.26 244.97,18.54 245.25,20.44 246.09,35.01 246.38,38.79 246.66,41.41 246.94,43.05 247.22,44.04 247.50,44.59 248.06,45.15 248.91,45.40 250.03,45.49 250.88,45.30 251.16,45.10 251.44,44.77 252.00,43.56 252.84,40.90 253.13,40.60 253.41,40.94 254.25,43.50 254.53,44.13 254.81,44.58 255.09,44.85 255.66,45.04 259.31,44.98 261.00,44.80 262.69,44.44 263.53,44.12 263.81,43.97 264.09,43.71 264.38,43.28 264.66,42.61 264.94,41.61 265.78,37.38 266.06,36.53 266.34,36.67 266.63,37.69 267.47,41.71 267.75,42.57 268.03,43.12 268.31,43.50 268.88,43.77 270.00,43.75 270.56,43.64 271.13,43.37 271.41,43.14 271.69,42.79 271.97,42.17 272.25,41.19 272.81,37.98 273.38,34.07 273.66,33.03 273.94,33.31 274.50,36.82 275.06,40.34 275.34,41.50 275.63,42.25 275.91,42.73 276.47,43.18 277.59,43.40 279.84,43.31 282.66,43.06 283.50,42.84 283.78,42.67 284.34,41.99 284.63,41.41 285.47,38.69 285.75,38.04 286.03,37.93 286.31,38.43 287.16,40.88 287.44,41.46 287.72,41.87 288.00,42.10 288.56,42.23 289.69,42.15 290.53,41.86 291.09,41.40 291.66,40.20 292.22,38.08 292.78,35.91 293.06,35.63 293.34,36.13 294.19,39.41 294.47,40.23 294.75,40.82 295.03,41.22 295.59,41.55 296.16,41.66 297.28,41.79 298.41,41.84 299.25,41.91 300.38,41.92 302.06,41.75 302.63,41.49 302.91,41.26 303.47,40.46 304.03,39.37 304.31,38.96 304.59,38.91 304.88,39.18 305.72,40.68 306.00,41.06 306.56,41.49 307.13,41.61 308.53,41.57 309.66,41.39 310.50,41.05 310.78,40.81 311.06,40.41 311.34,39.75 311.63,38.63 311.91,36.86 312.47,31.21 313.03,24.36 313.31,22.53 313.59,22.98 313.88,25.48 314.72,35.38 315.00,37.55 315.28,38.99 315.56,39.91 315.84,40.43 316.13,40.74 316.69,41.03 317.81,41.13 318.66,40.97 319.22,40.68 319.50,40.41 319.78,39.92 320.06,39.04 320.34,37.67 320.63,35.52 321.19,28.70 321.75,20.95 322.03,19.19 322.31,20.13 322.88,27.43 323.44,34.73 323.72,37.15 324.00,38.80 324.28,39.80 324.56,40.40 325.13,40.92 325.69,41.08 326.25,41.07 326.53,40.93 327.09,40.31 327.66,39.12 327.94,38.42 328.22,37.92 328.50,37.80 328.78,38.14 329.63,40.23 329.91,40.77 330.47,41.44 331.03,41.71 332.44,41.89 333.84,41.89 336.38,41.64 336.94,41.35 337.22,41.06 337.78,40.02 338.34,38.65 338.63,38.15 338.91,38.05 339.19,38.43 340.03,40.48 340.31,40.97 340.59,41.31 341.16,41.66 341.72,41.82 343.13,41.77 343.69,41.57 344.53,41.10 344.81,41.02 345.09,41.03 346.22,41.68 347.34,41.96 349.31,41.98 350.72,41.85 351.56,41.63 352.13,41.25 352.41,40.90 352.69,40.30 352.97,39.30 353.25,37.77 353.81,32.63 354.38,26.08 354.66,23.93 354.94,23.75 355.22,25.70 356.06,35.27 356.34,37.63 356.63,39.29 356.91,40.34 357.19,41.01 357.47,41.45 358.31,42.04 358.88,42.25 360.28,42.49 361.13,42.49 363.66,42.78 366.47,42.58 367.03,42.42 367.31,42.27 367.59,42.02 367.88,41.60 368.16,40.87 368.44,39.73 368.72,37.95 369.28,32.38 369.84,26.11 370.13,24.68 370.41,25.39 370.97,31.27 371.53,37.39 371.81,39.52 372.09,40.95 372.38,41.89 372.66,42.44 372.94,42.82 373.22,42.99 373.50,43.07 373.78,43.07 374.06,42.95 374.34,42.64 374.63,42.19 375.47,40.00 375.75,39.44 376.59,38.51 377.16,37.32 377.44,36.87 377.72,37.03 378.00,37.91 378.84,42.14 379.13,43.21 379.69,44.54 379.97,44.92 380.53,45.32 381.94,45.74 385.03,46.28 386.16,46.27 387.56,46.21 388.41,45.96 388.97,45.40 389.53,44.31 390.09,43.06 390.38,42.71 390.66,42.66 391.50,42.90 391.78,42.91 392.06,43.00 392.34,43.26 393.47,45.47 393.75,45.86 394.03,46.12 394.59,46.34 395.44,46.48 396.84,46.43 397.41,46.23 397.97,45.63 398.81,44.15 399.09,43.79 399.38,43.76 399.66,44.05 400.78,45.91 401.34,46.31 401.91,46.43 402.47,46.29 402.75,46.10 403.03,45.80 404.16,43.71 404.44,43.44 404.72,43.53 405.28,44.57 405.84,45.69 406.13,46.10 406.41,46.38 406.97,46.64 408.38,46.77 410.06,46.73 410.63,46.64 411.19,46.35 411.47,46.09 412.03,45.15 412.88,43.47 413.16,43.35 413.44,43.61 414.28,45.28 414.84,46.03 415.41,46.33 415.97,46.28 416.25,46.19 416.53,45.98 417.09,45.27 417.94,43.81 418.22,43.56 418.50,43.55 419.91,44.29 421.03,45.59 421.88,46.14 422.72,46.31 423.84,46.27 424.41,46.13 424.97,45.77 425.53,45.16 426.09,44.41 426.38,44.17 426.66,44.15 426.94,44.32 428.06,45.42 428.34,45.57 428.91,45.59 429.47,45.32 430.03,44.81 430.31,44.40 430.88,43.07 431.44,41.02 432.00,38.07" fill="none" stroke="#808000" stroke-width="1.75" stroke-linejoin="round" stroke-linecap="round"/>
<polyline points="27.00,44.42 30.94,44.67 32.91,44.96 33.47,45.08 34.59,45.16 37.97,45.72 39.38,45.93 41.63,46.34 42.75,46.66 44.44,47.06 45.28,47.13 45.56,47.13 46.13,46.87 46.41,46.45 46.69,45.70 47.25,43.07 47.53,41.52 47.81,40.52 48.09,40.59 48.38,41.82 48.94,45.23 49.22,46.58 49.50,47.50 49.78,48.14 50.34,48.74 51.19,49.21 53.44,49.91 55.69,50.52 56.25,50.52 56.81,50.26 57.38,49.56 57.94,48.80 58.22,48.81 58.50,49.21 59.34,50.88 59.63,51.25 60.47,51.75 63.00,52.53 66.66,53.43 69.47,54.01 70.31,54.13 70.88,54.15 73.97,54.74 79.59,54.92 81.28,54.85 83.81,54.59 84.66,54.49 85.78,54.20 86.34,53.96 86.91,53.51 87.19,53.18 87.47,52.66 87.75,51.73 88.03,50.12 88.31,47.59 89.16,35.46 89.44,32.98 89.72,33.58 90.28,41.17 90.84,48.30 91.13,50.43 91.41,51.73 91.69,52.45 91.97,52.83 92.53,53.17 93.38,53.38 94.22,53.40 96.19,53.29 97.59,53.09 100.41,52.55 101.81,52.14 103.50,51.38 104.63,50.66 105.19,50.10 105.75,49.04 106.03,48.08 106.31,46.42 106.59,43.68 106.88,39.52 107.72,21.24 108.00,18.13 108.28,19.60 109.13,36.61 109.41,40.87 109.69,43.59 109.97,45.10 110.25,45.76 110.53,45.88 110.81,45.64 111.09,45.03 111.38,43.87 111.66,41.77 111.94,37.95 112.22,31.52 112.50,21.71 113.34,-20.00 113.63,-25.92 113.91,-21.00 114.75,20.43 115.03,30.53 115.31,37.19 115.59,41.20 115.88,43.48 116.16,44.72 116.44,45.49 116.72,45.97 117.28,46.55 118.13,47.00 118.97,47.21 120.66,47.25 122.06,47.18 122.91,47.12 123.47,47.02 127.69,46.35 128.53,46.15 129.94,45.56 130.78,44.97 131.06,44.69 131.34,44.24 131.63,43.57 131.91,42.47 132.19,40.54 132.47,37.26 132.75,32.18 133.59,8.47 133.88,3.47 134.16,4.31 134.44,10.46 135.00,26.98 135.28,33.40 135.56,37.83 135.84,40.57 136.13,42.17 136.41,43.09 136.69,43.61 136.97,43.95 137.53,44.29 138.38,44.51 139.50,44.48 141.47,44.09 142.88,43.62 144.56,42.69 145.13,42.18 145.41,41.80 145.69,41.18 145.97,40.17 146.25,38.56 146.81,33.45 147.38,27.94 147.66,27.21 147.94,28.54 148.78,36.54 149.06,38.32 149.34,39.46 149.63,40.13 149.91,40.43 150.47,40.61 152.72,40.35 156.94,39.61 161.44,38.78 162.84,38.40 164.25,38.10 165.09,37.68 165.38,37.46 165.94,36.64 166.22,35.80 166.50,34.43 166.78,32.25 167.34,25.18 167.91,17.53 168.19,16.52 168.47,18.42 169.31,29.95 169.59,32.64 169.88,34.41 170.16,35.46 170.44,36.04 170.72,36.39 171.28,36.69 171.84,36.82 172.69,36.81 175.78,36.31 176.91,35.90 177.19,35.69 177.47,35.32 177.75,34.78 178.03,33.92 178.59,31.01 179.16,27.36 179.44,26.42 179.72,26.76 180.56,31.69 180.84,33.01 181.13,33.92 181.41,34.49 181.69,34.77 182.25,34.99 183.09,34.99 185.34,34.78 186.75,34.44 191.53,33.30 192.66,32.88 194.06,31.96 194.34,31.68 194.63,31.26 194.91,30.65 195.19,29.58 195.47,27.91 195.75,25.27 196.31,16.85 196.88,7.93 197.16,6.79 197.44,9.02 198.28,22.50 198.56,25.69 198.84,27.79 199.13,29.09 199.41,29.81 199.69,30.21 199.97,30.43 200.81,30.69 202.22,30.74 203.91,30.64 204.75,30.46 205.31,30.15 205.59,29.85 206.16,28.86 206.72,27.74 207.00,27.49 207.28,27.63 208.41,29.58 208.69,29.85 209.25,30.10 210.66,30.18 211.78,30.08 212.63,30.05 214.31,29.81 214.59,29.68 216.00,29.38 218.25,28.70 219.66,28.09 220.22,27.61 220.50,27.19 220.78,26.56 221.06,25.56 221.34,24.05 222.19,17.01 222.47,15.25 222.75,15.00 223.03,16.37 223.88,23.00 224.16,24.51 224.44,25.45 224.72,26.00 225.00,26.26 225.28,26.39 226.41,26.41 228.38,26.12 229.78,25.64 230.91,25.05 231.47,24.57 231.75,24.16 232.03,23.55 232.31,22.60 232.59,20.99 232.88,18.31 233.16,14.28 234.00,-4.66 234.28,-9.40 234.56,-9.99 234.84,-6.18 235.69,12.70 235.97,17.03 236.25,19.90 236.53,21.66 236.81,22.66 237.09,23.22 237.38,23.59 237.94,24.00 238.50,24.19 239.63,24.30 240.75,24.18 241.88,23.83 242.44,23.54 243.00,22.97 243.28,22.51 243.56,21.75 243.84,20.47 244.13,18.31 244.41,15.03 245.53,-5.48 245.81,-6.67 246.09,-3.94 246.94,12.25 247.22,16.17 247.50,18.86 247.78,20.53 248.06,21.51 248.34,22.09 248.91,22.63 249.75,22.91 251.16,22.98 251.72,22.78 252.00,22.57 252.28,22.17 252.56,21.62 253.69,17.90 253.97,17.67 254.25,18.13 255.09,20.91 255.38,21.59 255.66,22.07 255.94,22.34 256.50,22.56 258.19,22.70 259.88,22.67 262.41,22.42 263.25,22.33 264.38,22.04 264.66,21.90 264.94,21.64 265.22,21.23 265.50,20.62 266.06,18.50 266.63,15.74 266.91,14.92 267.19,14.96 267.47,15.86 268.31,19.73 268.59,20.56 268.88,21.11 269.16,21.44 269.72,21.74 270.84,21.73 271.69,21.56 272.25,21.23 272.53,20.93 272.81,20.39 273.09,19.54 273.66,16.49 274.22,12.71 274.50,11.61 274.78,11.78 275.06,13.08 275.91,18.47 276.19,19.66 276.47,20.43 276.75,20.90 277.03,21.16 277.88,21.47 280.13,21.55 283.22,21.44 284.06,21.28 284.63,21.01 284.91,20.77 285.19,20.40 285.47,19.86 286.59,16.47 286.88,16.21 287.16,16.59 288.00,19.09 288.28,19.70 288.56,20.14 289.13,20.56 289.69,20.67 291.09,20.58 291.66,20.42 291.94,20.23 292.22,19.93 292.50,19.48 292.78,18.83 293.63,16.22 293.91,15.81 294.19,16.01 295.31,19.16 295.59,19.68 295.88,20.04 296.44,20.34 297.56,20.52 300.66,20.54 302.06,20.49 303.19,20.31 303.75,19.98 304.31,19.10 305.16,17.27 305.44,17.01 305.72,17.19 306.84,19.44 307.13,19.80 307.69,20.13 308.53,20.14 309.94,19.93 310.78,19.65 311.34,19.33 311.63,19.04 311.91,18.59 312.19,17.81 312.47,16.51 312.75,14.39 313.03,11.24 314.16,-8.04 314.44,-9.34 314.72,-7.02 315.56,8.25 315.84,12.23 316.13,15.04 316.41,16.85 316.69,17.96 316.97,18.58 317.25,18.91 317.81,19.27 318.94,19.39 319.78,19.17 320.06,19.03 320.34,18.73 320.63,18.26 320.91,17.39 321.19,15.91 321.47,13.51 321.75,9.95 322.59,-6.61 322.88,-11.10 323.16,-12.30 323.44,-9.57 324.28,7.29 324.56,11.61 324.84,14.65 325.13,16.59 325.41,17.82 325.69,18.53 325.97,18.97 326.53,19.36 327.09,19.54 327.38,19.50 327.66,19.34 327.94,19.00 328.50,17.74 329.06,16.12 329.34,15.60 329.63,15.60 329.91,16.18 330.75,18.82 331.03,19.46 331.59,20.15 332.44,20.49 333.84,20.61 335.53,20.63 336.94,20.56 337.50,20.45 337.78,20.33 338.34,19.78 338.91,18.57 339.47,17.01 339.75,16.53 340.03,16.56 340.31,17.09 341.16,19.38 341.72,20.24 342.00,20.48 342.84,20.70 343.97,20.72 344.81,20.50 345.66,19.97 345.94,19.89 346.50,20.05 347.34,20.54 348.19,20.78 349.31,20.87 350.44,20.78 351.56,20.61 352.13,20.48 352.97,20.00 353.25,19.65 353.53,19.08 353.81,18.14 354.09,16.60 354.38,14.15 354.94,6.00 355.50,-4.44 355.78,-7.86 356.06,-8.10 356.34,-5.02 357.19,10.16 357.47,13.88 357.75,16.45 358.03,18.09 358.31,19.14 358.59,19.77 359.16,20.42 360.00,20.88 360.84,21.16 362.81,21.53 366.19,21.82 368.16,21.80 368.72,21.67 369.00,21.51 369.28,21.26 369.56,20.87 369.84,20.19 370.41,17.93 370.97,15.28 371.25,14.54 371.53,14.70 371.81,15.69 372.66,19.71 372.94,20.65 373.22,21.32 373.50,21.74 373.78,21.97 374.06,22.07 374.34,22.09 374.63,22.02 374.91,21.82 375.19,21.44 375.47,20.83 376.03,18.77 376.59,16.10 376.88,15.04 377.16,14.48 377.72,14.20 378.00,13.78 378.56,12.58 378.84,12.64 379.13,13.62 379.97,19.12 380.53,21.73 380.81,22.46 381.09,22.95 381.66,23.46 382.50,23.83 384.47,24.24 387.56,24.41 389.25,24.25 390.09,23.89 390.66,23.39 391.50,22.34 392.06,21.98 392.63,21.65 393.19,21.21 393.47,21.25 393.75,21.59 394.59,23.15 394.88,23.56 395.44,24.01 395.72,24.12 397.41,24.17 397.97,24.07 398.53,23.78 399.09,22.94 400.22,19.74 400.50,19.38 400.78,19.57 401.06,20.20 401.91,22.60 402.19,23.11 402.47,23.45 403.03,23.77 403.59,23.76 403.88,23.60 404.16,23.31 404.72,22.31 405.28,20.93 405.56,20.42 405.84,20.29 406.13,20.60 407.25,23.05 407.53,23.44 408.09,23.83 408.66,23.94 410.34,23.98 411.47,23.86 412.03,23.59 412.31,23.34 412.59,22.98 413.16,21.58 414.00,18.31 414.28,17.68 414.56,17.73 414.84,18.39 415.69,21.46 415.97,22.23 416.25,22.75 416.53,23.04 416.81,23.19 417.09,23.23 417.38,23.16 417.94,22.69 418.50,21.76 419.34,19.93 419.63,19.60 419.91,19.48 421.03,19.41 421.31,19.66 421.59,20.11 422.44,21.88 422.72,22.30 423.28,22.78 423.84,22.92 424.97,22.81 425.53,22.64 426.09,22.26 426.66,21.57 427.50,20.11 427.78,19.82 428.06,19.85 428.34,20.13 429.19,21.36 429.47,21.67 429.75,21.83 430.31,21.92 430.59,21.85 430.88,21.69 431.44,21.02 432.00,19.86" fill="none" stroke="#2464a8" stroke-width="1.75" stroke-linejoin="round" stroke-linecap="round"/>
<line x1="26.8" y1="-2" x2="26.8" y2="272.4" stroke="#000" stroke-width="1.9"/>
<line x1="432.8" y1="-2" x2="432.8" y2="272.4" stroke="#000" stroke-width="1.9"/>
<line x1="25.9" y1="271.5" x2="433.7" y2="271.5" stroke="#000" stroke-width="1.8"/>
<line x1="27.0" y1="271.5" x2="27.0" y2="277.6" stroke="#000" stroke-width="1.6"/>
<text x="27.2" y="289" font-size="10.8" text-anchor="middle">2</text>
<line x1="49.5" y1="271.5" x2="49.5" y2="274.6" stroke="#000" stroke-width="1.5"/>
<line x1="72.0" y1="271.5" x2="72.0" y2="277.6" stroke="#000" stroke-width="1.6"/>
<text x="72.2" y="289" font-size="10.8" text-anchor="middle">4</text>
<line x1="94.5" y1="271.5" x2="94.5" y2="274.6" stroke="#000" stroke-width="1.5"/>
<line x1="117.0" y1="271.5" x2="117.0" y2="277.6" stroke="#000" stroke-width="1.6"/>
<text x="117.2" y="289" font-size="10.8" text-anchor="middle">6</text>
<line x1="139.5" y1="271.5" x2="139.5" y2="274.6" stroke="#000" stroke-width="1.5"/>
<line x1="162.0" y1="271.5" x2="162.0" y2="277.6" stroke="#000" stroke-width="1.6"/>
<text x="162.2" y="289" font-size="10.8" text-anchor="middle">8</text>
<line x1="184.5" y1="271.5" x2="184.5" y2="274.6" stroke="#000" stroke-width="1.5"/>
<line x1="207.0" y1="271.5" x2="207.0" y2="277.6" stroke="#000" stroke-width="1.6"/>
<text x="207.2" y="289" font-size="10.8" text-anchor="middle">10</text>
<line x1="229.5" y1="271.5" x2="229.5" y2="274.6" stroke="#000" stroke-width="1.5"/>
<line x1="252.0" y1="271.5" x2="252.0" y2="277.6" stroke="#000" stroke-width="1.6"/>
<text x="252.2" y="289" font-size="10.8" text-anchor="middle">12</text>
<line x1="274.5" y1="271.5" x2="274.5" y2="274.6" stroke="#000" stroke-width="1.5"/>
<line x1="297.0" y1="271.5" x2="297.0" y2="277.6" stroke="#000" stroke-width="1.6"/>
<text x="297.2" y="289" font-size="10.8" text-anchor="middle">14</text>
<line x1="319.5" y1="271.5" x2="319.5" y2="274.6" stroke="#000" stroke-width="1.5"/>
<line x1="342.0" y1="271.5" x2="342.0" y2="277.6" stroke="#000" stroke-width="1.6"/>
<text x="342.2" y="289" font-size="10.8" text-anchor="middle">16</text>
<line x1="364.5" y1="271.5" x2="364.5" y2="274.6" stroke="#000" stroke-width="1.5"/>
<line x1="387.0" y1="271.5" x2="387.0" y2="277.6" stroke="#000" stroke-width="1.6"/>
<text x="387.2" y="289" font-size="10.8" text-anchor="middle">18</text>
<line x1="409.5" y1="271.5" x2="409.5" y2="274.6" stroke="#000" stroke-width="1.5"/>
<line x1="432.0" y1="271.5" x2="432.0" y2="277.6" stroke="#000" stroke-width="1.6"/>
<text x="432.2" y="289" font-size="10.8" text-anchor="middle">20</text>
<text transform="translate(218.3,304.7) scale(1.115,1)" font-size="12.5" text-anchor="middle">2<tspan font-weight="normal" stroke="none">θ</tspan> (degree)</text>
<text transform="translate(15,130.4) rotate(-90)" font-size="14.2" text-anchor="middle">Intensity (arb. units)</text>
<text transform="translate(4.6,2.5) scale(0.94,1)" font-size="15.5" stroke="none">a<tspan dx="-0.7">)</tspan></text>
<text x="379.6" y="31.8" font-size="8.8">10.3 GPa</text>
<text x="377.2" y="53.3" font-size="8.8">9.5 GPa</text>
<text x="375.5" y="77.8" font-size="8.8">8.4 GPa</text>
<text x="374.8" y="98.5" font-size="8.8">7.1 GPa</text>
<text x="369.3" y="119.5" font-size="8.8">6.1 GPa</text>
<text x="368.5" y="144.7" font-size="8.8">5.0 GPa</text>
<text x="365.5" y="166.6" font-size="8.8">4.2 GPa</text>
<text x="363.5" y="190.2" font-size="8.8">3.4 GPa</text>
<text x="359.2" y="209.0" font-size="8.8">2.3 GPa</text>
<text x="355.9" y="228.4" font-size="8.8">1.1 GPa</text>
<text x="354.2" y="246.0" font-size="8.8">Ambient</text>
</g>
<g id="pb">
<rect x="31.5" y="325.0" width="111.4" height="218.1" fill="none" stroke="#000" stroke-width="0.95"/>
<g stroke="#000" stroke-width="0.9"><line x1="36.0" y1="543.1" x2="36.0" y2="546.6"/><line x1="36.0" y1="325.0" x2="36.0" y2="325.9"/><line x1="55.4" y1="543.1" x2="55.4" y2="546.6"/><line x1="55.4" y1="325.0" x2="55.4" y2="325.9"/><line x1="74.8" y1="543.1" x2="74.8" y2="546.6"/><line x1="74.8" y1="325.0" x2="74.8" y2="325.9"/><line x1="94.3" y1="543.1" x2="94.3" y2="546.6"/><line x1="94.3" y1="325.0" x2="94.3" y2="325.9"/><line x1="113.7" y1="543.1" x2="113.7" y2="546.6"/><line x1="113.7" y1="325.0" x2="113.7" y2="325.9"/><line x1="133.1" y1="543.1" x2="133.1" y2="546.6"/><line x1="133.1" y1="325.0" x2="133.1" y2="325.9"/><line x1="45.7" y1="543.1" x2="45.7" y2="545.0"/><line x1="45.7" y1="325.0" x2="45.7" y2="325.8"/><line x1="65.1" y1="543.1" x2="65.1" y2="545.0"/><line x1="65.1" y1="325.0" x2="65.1" y2="325.8"/><line x1="84.6" y1="543.1" x2="84.6" y2="545.0"/><line x1="84.6" y1="325.0" x2="84.6" y2="325.8"/><line x1="104.0" y1="543.1" x2="104.0" y2="545.0"/><line x1="104.0" y1="325.0" x2="104.0" y2="325.8"/><line x1="123.4" y1="543.1" x2="123.4" y2="545.0"/><line x1="123.4" y1="325.0" x2="123.4" y2="325.8"/><line x1="27.9" y1="512.0" x2="31.5" y2="512.0"/><line x1="142.0" y1="512.0" x2="142.9" y2="512.0"/><line x1="27.9" y1="470.4" x2="31.5" y2="470.4"/><line x1="142.0" y1="470.4" x2="142.9" y2="470.4"/><line x1="27.9" y1="428.8" x2="31.5" y2="428.8"/><line x1="142.0" y1="428.8" x2="142.9" y2="428.8"/><line x1="27.9" y1="387.2" x2="31.5" y2="387.2"/><line x1="142.0" y1="387.2" x2="142.9" y2="387.2"/><line x1="27.9" y1="345.6" x2="31.5" y2="345.6"/><line x1="142.0" y1="345.6" x2="142.9" y2="345.6"/><line x1="29.8" y1="532.8" x2="31.5" y2="532.8"/><line x1="142.1" y1="532.8" x2="142.9" y2="532.8"/><line x1="29.8" y1="491.2" x2="31.5" y2="491.2"/><line x1="142.1" y1="491.2" x2="142.9" y2="491.2"/><line x1="29.8" y1="449.6" x2="31.5" y2="449.6"/><line x1="142.1" y1="449.6" x2="142.9" y2="449.6"/><line x1="29.8" y1="408.0" x2="31.5" y2="408.0"/><line x1="142.1" y1="408.0" x2="142.9" y2="408.0"/><line x1="29.8" y1="366.4" x2="31.5" y2="366.4"/><line x1="142.1" y1="366.4" x2="142.9" y2="366.4"/></g>
<text x="36.0" y="552.7" font-size="6.2" text-anchor="middle">0</text>
<text x="55.4" y="552.7" font-size="6.2" text-anchor="middle">2</text>
<text x="74.8" y="552.7" font-size="6.2" text-anchor="middle">4</text>
<text x="94.3" y="552.7" font-size="6.2" text-anchor="middle">6</text>
<text x="113.7" y="552.7" font-size="6.2" text-anchor="middle">8</text>
<text x="133.1" y="552.7" font-size="6.2" text-anchor="middle">10</text>
<text x="26.8" y="514.2" font-size="6.2" text-anchor="end">10.0</text>
<text x="26.8" y="472.6" font-size="6.2" text-anchor="end">10.2</text>
<text x="26.8" y="431.0" font-size="6.2" text-anchor="end">10.4</text>
<text x="26.8" y="389.4" font-size="6.2" text-anchor="end">10.6</text>
<text x="26.8" y="347.8" font-size="6.2" text-anchor="end">10.8</text>
<text x="90.8" y="564.3" font-size="7.45" text-anchor="middle">Pressure (GPa)</text>
<text transform="translate(11.3,431.6) rotate(-90)" font-size="7.4" text-anchor="middle">Lattice parameter (Å)</text>
<text transform="translate(3.6,340.8) scale(0.94,1)" font-size="15.5" stroke="none">b<tspan dx="-0.7">)</tspan></text>
<polyline points="36.1,331.3 44.3,350.2 47.0,370.1 50.0,376.6 54.7,388.0 58.4,404.6 62.5,411.4 69.3,437.0 72.0,441.4 77.0,449.5 80.7,454.6 84.8,464.4 92.2,474.5 95.3,477.6 100.0,485.6 105.0,492.3 117.4,511.3 121.3,515.2 128.0,523.3 136.1,530.7" fill="none" stroke="#0000ff" stroke-width="1.8" stroke-linejoin="round"/>
<circle cx="36.1" cy="331.3" r="3.50" fill="url(#gb)"/>
<circle cx="44.3" cy="350.2" r="3.50" fill="url(#gb)"/>
<circle cx="47.0" cy="370.1" r="3.50" fill="url(#gb)"/>
<circle cx="50.0" cy="376.6" r="3.50" fill="url(#gb)"/>
<circle cx="54.7" cy="388.0" r="3.50" fill="url(#gb)"/>
<circle cx="58.4" cy="404.6" r="3.50" fill="url(#gb)"/>
<circle cx="62.5" cy="411.4" r="3.50" fill="url(#gb)"/>
<circle cx="69.3" cy="437.0" r="3.50" fill="url(#gb)"/>
<circle cx="72.0" cy="441.4" r="3.50" fill="url(#gb)"/>
<circle cx="77.0" cy="449.5" r="3.50" fill="url(#gb)"/>
<circle cx="80.7" cy="454.6" r="3.50" fill="url(#gb)"/>
<circle cx="84.8" cy="464.4" r="3.50" fill="url(#gb)"/>
<circle cx="92.2" cy="474.5" r="3.50" fill="url(#gb)"/>
<circle cx="95.3" cy="477.6" r="3.50" fill="url(#gb)"/>
<circle cx="100.0" cy="485.6" r="3.50" fill="url(#gb)"/>
<circle cx="105.0" cy="492.3" r="3.50" fill="url(#gb)"/>
<circle cx="117.4" cy="511.3" r="3.50" fill="url(#gb)"/>
<circle cx="121.3" cy="515.2" r="3.50" fill="url(#gb)"/>
<circle cx="128.0" cy="523.3" r="3.50" fill="url(#gb)"/>
<circle cx="136.1" cy="530.7" r="3.50" fill="url(#gb)"/>
</g>
<g id="pc">
<rect x="178.5" y="323.5" width="118.8" height="219.7" fill="none" stroke="#000" stroke-width="0.95"/>
<g stroke="#000" stroke-width="0.9"><line x1="183.3" y1="543.2" x2="183.3" y2="546.7"/><line x1="183.3" y1="323.5" x2="183.3" y2="324.4"/><line x1="203.7" y1="543.2" x2="203.7" y2="546.7"/><line x1="203.7" y1="323.5" x2="203.7" y2="324.4"/><line x1="224.1" y1="543.2" x2="224.1" y2="546.7"/><line x1="224.1" y1="323.5" x2="224.1" y2="324.4"/><line x1="244.5" y1="543.2" x2="244.5" y2="546.7"/><line x1="244.5" y1="323.5" x2="244.5" y2="324.4"/><line x1="264.9" y1="543.2" x2="264.9" y2="546.7"/><line x1="264.9" y1="323.5" x2="264.9" y2="324.4"/><line x1="285.3" y1="543.2" x2="285.3" y2="546.7"/><line x1="285.3" y1="323.5" x2="285.3" y2="324.4"/><line x1="193.5" y1="543.2" x2="193.5" y2="545.1"/><line x1="193.5" y1="323.5" x2="193.5" y2="324.3"/><line x1="213.9" y1="543.2" x2="213.9" y2="545.1"/><line x1="213.9" y1="323.5" x2="213.9" y2="324.3"/><line x1="234.3" y1="543.2" x2="234.3" y2="545.1"/><line x1="234.3" y1="323.5" x2="234.3" y2="324.3"/><line x1="254.7" y1="543.2" x2="254.7" y2="545.1"/><line x1="254.7" y1="323.5" x2="254.7" y2="324.3"/><line x1="275.1" y1="543.2" x2="275.1" y2="545.1"/><line x1="275.1" y1="323.5" x2="275.1" y2="324.3"/><line x1="295.5" y1="543.2" x2="295.5" y2="545.1"/><line x1="295.5" y1="323.5" x2="295.5" y2="324.3"/><line x1="174.9" y1="543.2" x2="178.5" y2="543.2"/><line x1="296.4" y1="543.2" x2="297.3" y2="543.2"/><line x1="174.9" y1="513.5" x2="178.5" y2="513.5"/><line x1="296.4" y1="513.5" x2="297.3" y2="513.5"/><line x1="174.9" y1="483.8" x2="178.5" y2="483.8"/><line x1="296.4" y1="483.8" x2="297.3" y2="483.8"/><line x1="174.9" y1="454.1" x2="178.5" y2="454.1"/><line x1="296.4" y1="454.1" x2="297.3" y2="454.1"/><line x1="174.9" y1="424.3" x2="178.5" y2="424.3"/><line x1="296.4" y1="424.3" x2="297.3" y2="424.3"/><line x1="174.9" y1="394.6" x2="178.5" y2="394.6"/><line x1="296.4" y1="394.6" x2="297.3" y2="394.6"/><line x1="174.9" y1="364.9" x2="178.5" y2="364.9"/><line x1="296.4" y1="364.9" x2="297.3" y2="364.9"/><line x1="174.9" y1="335.2" x2="178.5" y2="335.2"/><line x1="296.4" y1="335.2" x2="297.3" y2="335.2"/><line x1="176.8" y1="528.3" x2="178.5" y2="528.3"/><line x1="296.5" y1="528.3" x2="297.3" y2="528.3"/><line x1="176.8" y1="498.6" x2="178.5" y2="498.6"/><line x1="296.5" y1="498.6" x2="297.3" y2="498.6"/><line x1="176.8" y1="468.9" x2="178.5" y2="468.9"/><line x1="296.5" y1="468.9" x2="297.3" y2="468.9"/><line x1="176.8" y1="439.2" x2="178.5" y2="439.2"/><line x1="296.5" y1="439.2" x2="297.3" y2="439.2"/><line x1="176.8" y1="409.5" x2="178.5" y2="409.5"/><line x1="296.5" y1="409.5" x2="297.3" y2="409.5"/><line x1="176.8" y1="379.8" x2="178.5" y2="379.8"/><line x1="296.5" y1="379.8" x2="297.3" y2="379.8"/><line x1="176.8" y1="350.1" x2="178.5" y2="350.1"/><line x1="296.5" y1="350.1" x2="297.3" y2="350.1"/></g>
<text x="183.3" y="552.7" font-size="5.9" text-anchor="middle">0</text>
<text x="203.7" y="552.7" font-size="5.9" text-anchor="middle">2</text>
<text x="224.1" y="552.7" font-size="5.9" text-anchor="middle">4</text>
<text x="244.5" y="552.7" font-size="5.9" text-anchor="middle">6</text>
<text x="264.9" y="552.7" font-size="5.9" text-anchor="middle">8</text>
<text x="285.3" y="552.7" font-size="5.9" text-anchor="middle">10</text>
<text x="173.4" y="545.4" font-size="6.0" text-anchor="end">950</text>
<text x="173.4" y="515.6" font-size="6.0" text-anchor="end">1000</text>
<text x="173.4" y="485.9" font-size="6.0" text-anchor="end">1050</text>
<text x="173.4" y="456.2" font-size="6.0" text-anchor="end">1100</text>
<text x="173.4" y="426.5" font-size="6.0" text-anchor="end">1150</text>
<text x="173.4" y="396.8" font-size="6.0" text-anchor="end">1200</text>
<text x="173.4" y="367.1" font-size="6.0" text-anchor="end">1250</text>
<text x="173.4" y="337.3" font-size="6.0" text-anchor="end">1300</text>
<text x="238.1" y="561.6" font-size="7.45" text-anchor="middle">Pressure (GPa)</text>
<text transform="translate(155.8,432.9) rotate(-90)" font-size="7.7" text-anchor="middle">Volume (Å<tspan font-size="4.6" dy="-2.6">3</tspan><tspan dy="2.6">)</tspan></text>
<text transform="translate(147.6,339.2) scale(0.94,1)" font-size="15.5" stroke="none">c<tspan dx="-0.7">)</tspan></text>
<circle cx="183.0" cy="345.1" r="3.30" fill="url(#gk)"/>
<circle cx="191.6" cy="363.9" r="3.30" fill="url(#gk)"/>
<circle cx="194.3" cy="383.6" r="3.30" fill="url(#gk)"/>
<circle cx="197.3" cy="389.8" r="3.30" fill="url(#gk)"/>
<circle cx="202.7" cy="401.0" r="3.30" fill="url(#gk)"/>
<circle cx="206.7" cy="416.6" r="3.30" fill="url(#gk)"/>
<circle cx="210.4" cy="423.6" r="3.30" fill="url(#gk)"/>
<circle cx="218.0" cy="446.9" r="3.30" fill="url(#gk)"/>
<circle cx="220.7" cy="450.9" r="3.30" fill="url(#gk)"/>
<circle cx="226.0" cy="459.0" r="3.30" fill="url(#gk)"/>
<circle cx="230.6" cy="463.0" r="3.30" fill="url(#gk)"/>
<circle cx="234.1" cy="471.9" r="3.30" fill="url(#gk)"/>
<circle cx="242.2" cy="481.3" r="3.30" fill="url(#gk)"/>
<circle cx="245.7" cy="484.0" r="3.30" fill="url(#gk)"/>
<circle cx="250.2" cy="490.7" r="3.30" fill="url(#gk)"/>
<circle cx="255.6" cy="496.6" r="3.30" fill="url(#gk)"/>
<circle cx="268.5" cy="513.6" r="3.30" fill="url(#gk)"/>
<circle cx="273.1" cy="516.3" r="3.30" fill="url(#gk)"/>
<circle cx="280.1" cy="523.5" r="3.30" fill="url(#gk)"/>
<circle cx="288.4" cy="529.4" r="3.30" fill="url(#gk)"/>
<polyline points="183.3,332.3 183.4,332.8 183.5,333.4 183.6,333.9 183.7,334.5 183.7,335.0 183.8,335.5 183.9,336.1 184.0,336.6 184.1,337.2 184.2,337.7 184.3,338.3 184.4,338.8 184.5,339.3 184.6,339.9 184.7,340.4 184.8,341.0 184.9,341.5 185.0,342.1 185.1,342.6 185.1,343.2 185.2,343.7 185.3,344.2 185.4,344.8 185.5,345.3 185.6,345.9 185.7,346.4 185.9,347.0 186.0,347.5 186.1,348.0 186.2,348.6 186.3,349.1 186.4,349.7 186.5,350.2 186.6,350.8 186.7,351.3 186.8,351.8 186.9,352.4 187.0,352.9 187.1,353.5 187.2,354.0 187.3,354.6 187.5,355.1 187.6,355.7 187.7,356.2 187.8,356.7 187.9,357.3 188.0,357.8 188.1,358.4 188.3,358.9 188.4,359.5 188.5,360.0 188.6,360.5 188.7,361.1 188.8,361.6 189.0,362.2 189.1,362.7 189.2,363.3 189.3,363.8 189.5,364.3 189.6,364.9 189.7,365.4 189.8,366.0 189.9,366.5 190.1,367.1 190.2,367.6 190.3,368.2 190.5,368.7 190.6,369.2 190.7,369.8 190.9,370.3 191.0,370.9 191.1,371.4 191.2,372.0 191.4,372.5 191.5,373.0 191.7,373.6 191.8,374.1 191.9,374.7 192.1,375.2 192.2,375.8 192.3,376.3 192.5,376.9 192.6,377.4 192.8,377.9 192.9,378.5 193.1,379.0 193.2,379.6 193.3,380.1 193.5,380.7 193.6,381.2 193.8,381.7 193.9,382.3 194.1,382.8 194.2,383.4 194.4,383.9 194.5,384.5 194.7,385.0 194.8,385.5 195.0,386.1 195.1,386.6 195.3,387.2 195.5,387.7 195.6,388.3 195.8,388.8 195.9,389.4 196.1,389.9 196.3,390.4 196.4,391.0 196.6,391.5 196.8,392.1 196.9,392.6 197.1,393.2 197.3,393.7 197.4,394.2 197.6,394.8 197.8,395.3 197.9,395.9 198.1,396.4 198.3,397.0 198.4,397.5 198.6,398.0 198.8,398.6 199.0,399.1 199.2,399.7 199.3,400.2 199.5,400.8 199.7,401.3 199.9,401.9 200.1,402.4 200.2,402.9 200.4,403.5 200.6,404.0 200.8,404.6 201.0,405.1 201.2,405.7 201.4,406.2 201.6,406.7 201.8,407.3 201.9,407.8 202.1,408.4 202.3,408.9 202.5,409.5 202.7,410.0 202.9,410.5 203.1,411.1 203.3,411.6 203.5,412.2 203.7,412.7 203.9,413.3 204.1,413.8 204.4,414.4 204.6,414.9 204.8,415.4 205.0,416.0 205.2,416.5 205.4,417.1 205.6,417.6 205.8,418.2 206.0,418.7 206.3,419.2 206.5,419.8 206.7,420.3 206.9,420.9 207.1,421.4 207.4,422.0 207.6,422.5 207.8,423.0 208.0,423.6 208.3,424.1 208.5,424.7 208.7,425.2 209.0,425.8 209.2,426.3 209.4,426.9 209.7,427.4 209.9,427.9 210.2,428.5 210.4,429.0 210.6,429.6 210.9,430.1 211.1,430.7 211.4,431.2 211.6,431.7 211.9,432.3 212.1,432.8 212.4,433.4 212.6,433.9 212.9,434.5 213.1,435.0 213.4,435.5 213.6,436.1 213.9,436.6 214.2,437.2 214.4,437.7 214.7,438.3 214.9,438.8 215.2,439.4 215.5,439.9 215.8,440.4 216.0,441.0 216.3,441.5 216.6,442.1 216.8,442.6 217.1,443.2 217.4,443.7 217.7,444.2 218.0,444.8 218.2,445.3 218.5,445.9 218.8,446.4 219.1,447.0 219.4,447.5 219.7,448.1 220.0,448.6 220.3,449.1 220.6,449.7 220.9,450.2 221.2,450.8 221.5,451.3 221.8,451.9 222.1,452.4 222.4,452.9 222.7,453.5 223.0,454.0 223.3,454.6 223.6,455.1 223.9,455.7 224.3,456.2 224.6,456.7 224.9,457.3 225.2,457.8 225.5,458.4 225.9,458.9 226.2,459.5 226.5,460.0 226.8,460.6 227.2,461.1 227.5,461.6 227.8,462.2 228.2,462.7 228.5,463.3 228.9,463.8 229.2,464.4 229.6,464.9 229.9,465.4 230.3,466.0 230.6,466.5 231.0,467.1 231.3,467.6 231.7,468.2 232.0,468.7 232.4,469.2 232.8,469.8 233.1,470.3 233.5,470.9 233.9,471.4 234.2,472.0 234.6,472.5 235.0,473.1 235.3,473.6 235.7,474.1 236.1,474.7 236.5,475.2 236.9,475.8 237.3,476.3 237.7,476.9 238.0,477.4 238.4,477.9 238.8,478.5 239.2,479.0 239.6,479.6 240.0,480.1 240.4,480.7 240.9,481.2 241.3,481.7 241.7,482.3 242.1,482.8 242.5,483.4 242.9,483.9 243.3,484.5 243.8,485.0 244.2,485.6 244.6,486.1 245.0,486.6 245.5,487.2 245.9,487.7 246.4,488.3 246.8,488.8 247.2,489.4 247.7,489.9 248.1,490.4 248.6,491.0 249.0,491.5 249.5,492.1 249.9,492.6 250.4,493.2 250.9,493.7 251.3,494.2 251.8,494.8 252.3,495.3 252.7,495.9 253.2,496.4 253.7,497.0 254.2,497.5 254.7,498.1 255.1,498.6 255.6,499.1 256.1,499.7 256.6,500.2 257.1,500.8 257.6,501.3 258.1,501.9 258.6,502.4 259.1,502.9 259.6,503.5 260.2,504.0 260.7,504.6 261.2,505.1 261.7,505.7 262.2,506.2 262.8,506.7 263.3,507.3 263.8,507.8 264.4,508.4 264.9,508.9 265.4,509.5 266.0,510.0 266.5,510.6 267.1,511.1 267.7,511.6 268.2,512.2 268.8,512.7 269.3,513.3 269.9,513.8 270.5,514.4 271.0,514.9 271.6,515.4 272.2,516.0 272.8,516.5 273.4,517.1 274.0,517.6 274.6,518.2 275.2,518.7 275.8,519.3 276.4,519.8 277.0,520.3 277.6,520.9 278.2,521.4 278.8,522.0 279.4,522.5 280.1,523.1 280.7,523.6 281.3,524.1 281.9,524.7 282.6,525.2 283.2,525.8 283.9,526.3 284.5,526.9 285.2,527.4 285.8,527.9 286.5,528.5 287.2,529.0 287.8,529.6 288.5,530.1 289.2,530.7 289.8,531.2 290.5,531.8 291.2,532.3 291.9,532.8 292.6,533.4 293.3,533.9 294.0,534.5 294.7,535.0 295.4,535.6 296.1,536.1" fill="none" stroke="#ff0000" stroke-width="1.9" stroke-linejoin="round"/>
<text x="216.1" y="364.1" font-size="8.35">B<tspan font-size="4.6" dy="1.7">0</tspan><tspan dy="-1.7">= 14 ± 2 GPa</tspan></text>
<text x="216.1" y="378.9" font-size="8.35">B<tspan font-size="5" dy="-3.4" dx="-0.4">'</tspan><tspan dy="3.4">= 6.6 ± 0.7</tspan></text>
</g>
<g id="pd">
<rect x="327.2" y="325.8" width="108.5" height="218.3" fill="none" stroke="#2a2a2a" stroke-width="1.25"/>
<g stroke="#2a2a2a" stroke-width="0.9"><line x1="327.1" y1="544.1" x2="327.1" y2="547.6"/><line x1="327.1" y1="325.8" x2="327.1" y2="326.7"/><line x1="346.7" y1="544.1" x2="346.7" y2="547.6"/><line x1="346.7" y1="325.8" x2="346.7" y2="326.7"/><line x1="366.4" y1="544.1" x2="366.4" y2="547.6"/><line x1="366.4" y1="325.8" x2="366.4" y2="326.7"/><line x1="386.0" y1="544.1" x2="386.0" y2="547.6"/><line x1="386.0" y1="325.8" x2="386.0" y2="326.7"/><line x1="405.7" y1="544.1" x2="405.7" y2="547.6"/><line x1="405.7" y1="325.8" x2="405.7" y2="326.7"/><line x1="425.3" y1="544.1" x2="425.3" y2="547.6"/><line x1="425.3" y1="325.8" x2="425.3" y2="326.7"/><line x1="336.9" y1="544.1" x2="336.9" y2="546.0"/><line x1="336.9" y1="325.8" x2="336.9" y2="326.6"/><line x1="356.6" y1="544.1" x2="356.6" y2="546.0"/><line x1="356.6" y1="325.8" x2="356.6" y2="326.6"/><line x1="376.2" y1="544.1" x2="376.2" y2="546.0"/><line x1="376.2" y1="325.8" x2="376.2" y2="326.6"/><line x1="395.8" y1="544.1" x2="395.8" y2="546.0"/><line x1="395.8" y1="325.8" x2="395.8" y2="326.6"/><line x1="415.5" y1="544.1" x2="415.5" y2="546.0"/><line x1="415.5" y1="325.8" x2="415.5" y2="326.6"/><line x1="435.1" y1="544.1" x2="435.1" y2="546.0"/><line x1="435.1" y1="325.8" x2="435.1" y2="326.6"/><line x1="323.6" y1="527.9" x2="327.2" y2="527.9"/><line x1="434.8" y1="527.9" x2="435.7" y2="527.9"/><line x1="323.6" y1="496.8" x2="327.2" y2="496.8"/><line x1="434.8" y1="496.8" x2="435.7" y2="496.8"/><line x1="323.6" y1="465.7" x2="327.2" y2="465.7"/><line x1="434.8" y1="465.7" x2="435.7" y2="465.7"/><line x1="323.6" y1="434.6" x2="327.2" y2="434.6"/><line x1="434.8" y1="434.6" x2="435.7" y2="434.6"/><line x1="323.6" y1="403.5" x2="327.2" y2="403.5"/><line x1="434.8" y1="403.5" x2="435.7" y2="403.5"/><line x1="323.6" y1="372.4" x2="327.2" y2="372.4"/><line x1="434.8" y1="372.4" x2="435.7" y2="372.4"/><line x1="323.6" y1="341.3" x2="327.2" y2="341.3"/><line x1="434.8" y1="341.3" x2="435.7" y2="341.3"/><line x1="325.5" y1="512.4" x2="327.2" y2="512.4"/><line x1="434.9" y1="512.4" x2="435.7" y2="512.4"/><line x1="325.5" y1="481.2" x2="327.2" y2="481.2"/><line x1="434.9" y1="481.2" x2="435.7" y2="481.2"/><line x1="325.5" y1="450.2" x2="327.2" y2="450.2"/><line x1="434.9" y1="450.2" x2="435.7" y2="450.2"/><line x1="325.5" y1="419.1" x2="327.2" y2="419.1"/><line x1="434.9" y1="419.1" x2="435.7" y2="419.1"/><line x1="325.5" y1="388.0" x2="327.2" y2="388.0"/><line x1="434.9" y1="388.0" x2="435.7" y2="388.0"/><line x1="325.5" y1="356.9" x2="327.2" y2="356.9"/><line x1="434.9" y1="356.9" x2="435.7" y2="356.9"/></g>
<text x="327.1" y="553.4" font-size="6.1" text-anchor="middle">0.00</text>
<text x="346.7" y="553.4" font-size="6.1" text-anchor="middle">0.02</text>
<text x="366.4" y="553.4" font-size="6.1" text-anchor="middle">0.04</text>
<text x="386.0" y="553.4" font-size="6.1" text-anchor="middle">0.06</text>
<text x="405.7" y="553.4" font-size="6.1" text-anchor="middle">0.08</text>
<text x="425.3" y="553.4" font-size="6.1" text-anchor="middle">0.10</text>
<text x="322.4" y="530.0" font-size="6.1" text-anchor="end">18</text>
<text x="322.4" y="498.9" font-size="6.1" text-anchor="end">20</text>
<text x="322.4" y="467.8" font-size="6.1" text-anchor="end">22</text>
<text x="322.4" y="436.7" font-size="6.1" text-anchor="end">24</text>
<text x="322.4" y="405.6" font-size="6.1" text-anchor="end">26</text>
<text x="322.4" y="374.5" font-size="6.1" text-anchor="end">28</text>
<text x="322.4" y="343.4" font-size="6.1" text-anchor="end">30</text>
<text x="378.8" y="562.2" font-size="7.6" text-anchor="middle">Eulerian strain</text>
<text transform="translate(310.2,439) rotate(-90)" font-size="7.4" text-anchor="middle">H (GPa)</text>
<text transform="translate(304.4,336) scale(0.94,1)" font-size="15.5" stroke="none">d<tspan dx="-0.7">)</tspan></text>
<path d="M335.7,332.5 C337.5,370 339.5,410 341.1,440 C342.6,468 343.8,489 345.7,495 C347.3,492 349.3,481 351.8,481.7 C354.5,482.5 356.8,498 360.4,503.2 C362.5,505 363.6,503.6 365.3,504.5 C369,507.5 372.5,520.5 376.6,526 C377.4,526.3 377.9,525 378.3,524" fill="none" stroke="#0000ff" stroke-width="1.8" stroke-linejoin="round" stroke-linecap="round"/>
<circle cx="335.7" cy="332.5" r="3.30" fill="url(#gb)"/>
<circle cx="344.3" cy="508.0" r="3.30" fill="url(#gb)"/>
<circle cx="347.3" cy="490.6" r="3.30" fill="url(#gb)"/>
<circle cx="352.7" cy="474.1" r="3.30" fill="url(#gb)"/>
<circle cx="360.4" cy="511.3" r="3.30" fill="url(#gb)"/>
<circle cx="364.2" cy="497.0" r="3.30" fill="url(#gb)"/>
<circle cx="376.3" cy="532.2" r="3.30" fill="url(#gb)"/>
<circle cx="378.2" cy="523.9" r="3.30" fill="url(#gb)"/>
<circle cx="382.8" cy="515.8" r="3.30" fill="url(#gb)"/>
<circle cx="385.5" cy="504.5" r="3.30" fill="url(#gb)"/>
<circle cx="390.6" cy="511.3" r="3.30" fill="url(#gb)"/>
<circle cx="395.1" cy="497.8" r="3.30" fill="url(#gb)"/>
<circle cx="397.0" cy="493.0" r="3.30" fill="url(#gb)"/>
<circle cx="401.6" cy="491.6" r="3.30" fill="url(#gb)"/>
<circle cx="405.6" cy="489.2" r="3.30" fill="url(#gb)"/>
<circle cx="415.6" cy="490.0" r="3.30" fill="url(#gb)"/>
<circle cx="418.5" cy="486.3" r="3.30" fill="url(#gb)"/>
<circle cx="422.8" cy="483.0" r="3.30" fill="url(#gb)"/>
<circle cx="426.6" cy="476.6" r="3.30" fill="url(#gb)"/>
<line x1="376" y1="521.2" x2="426.6" y2="475.8" stroke="#ff0000" stroke-width="2" stroke-linecap="round"/>
</g>
</svg>
</body></html>
